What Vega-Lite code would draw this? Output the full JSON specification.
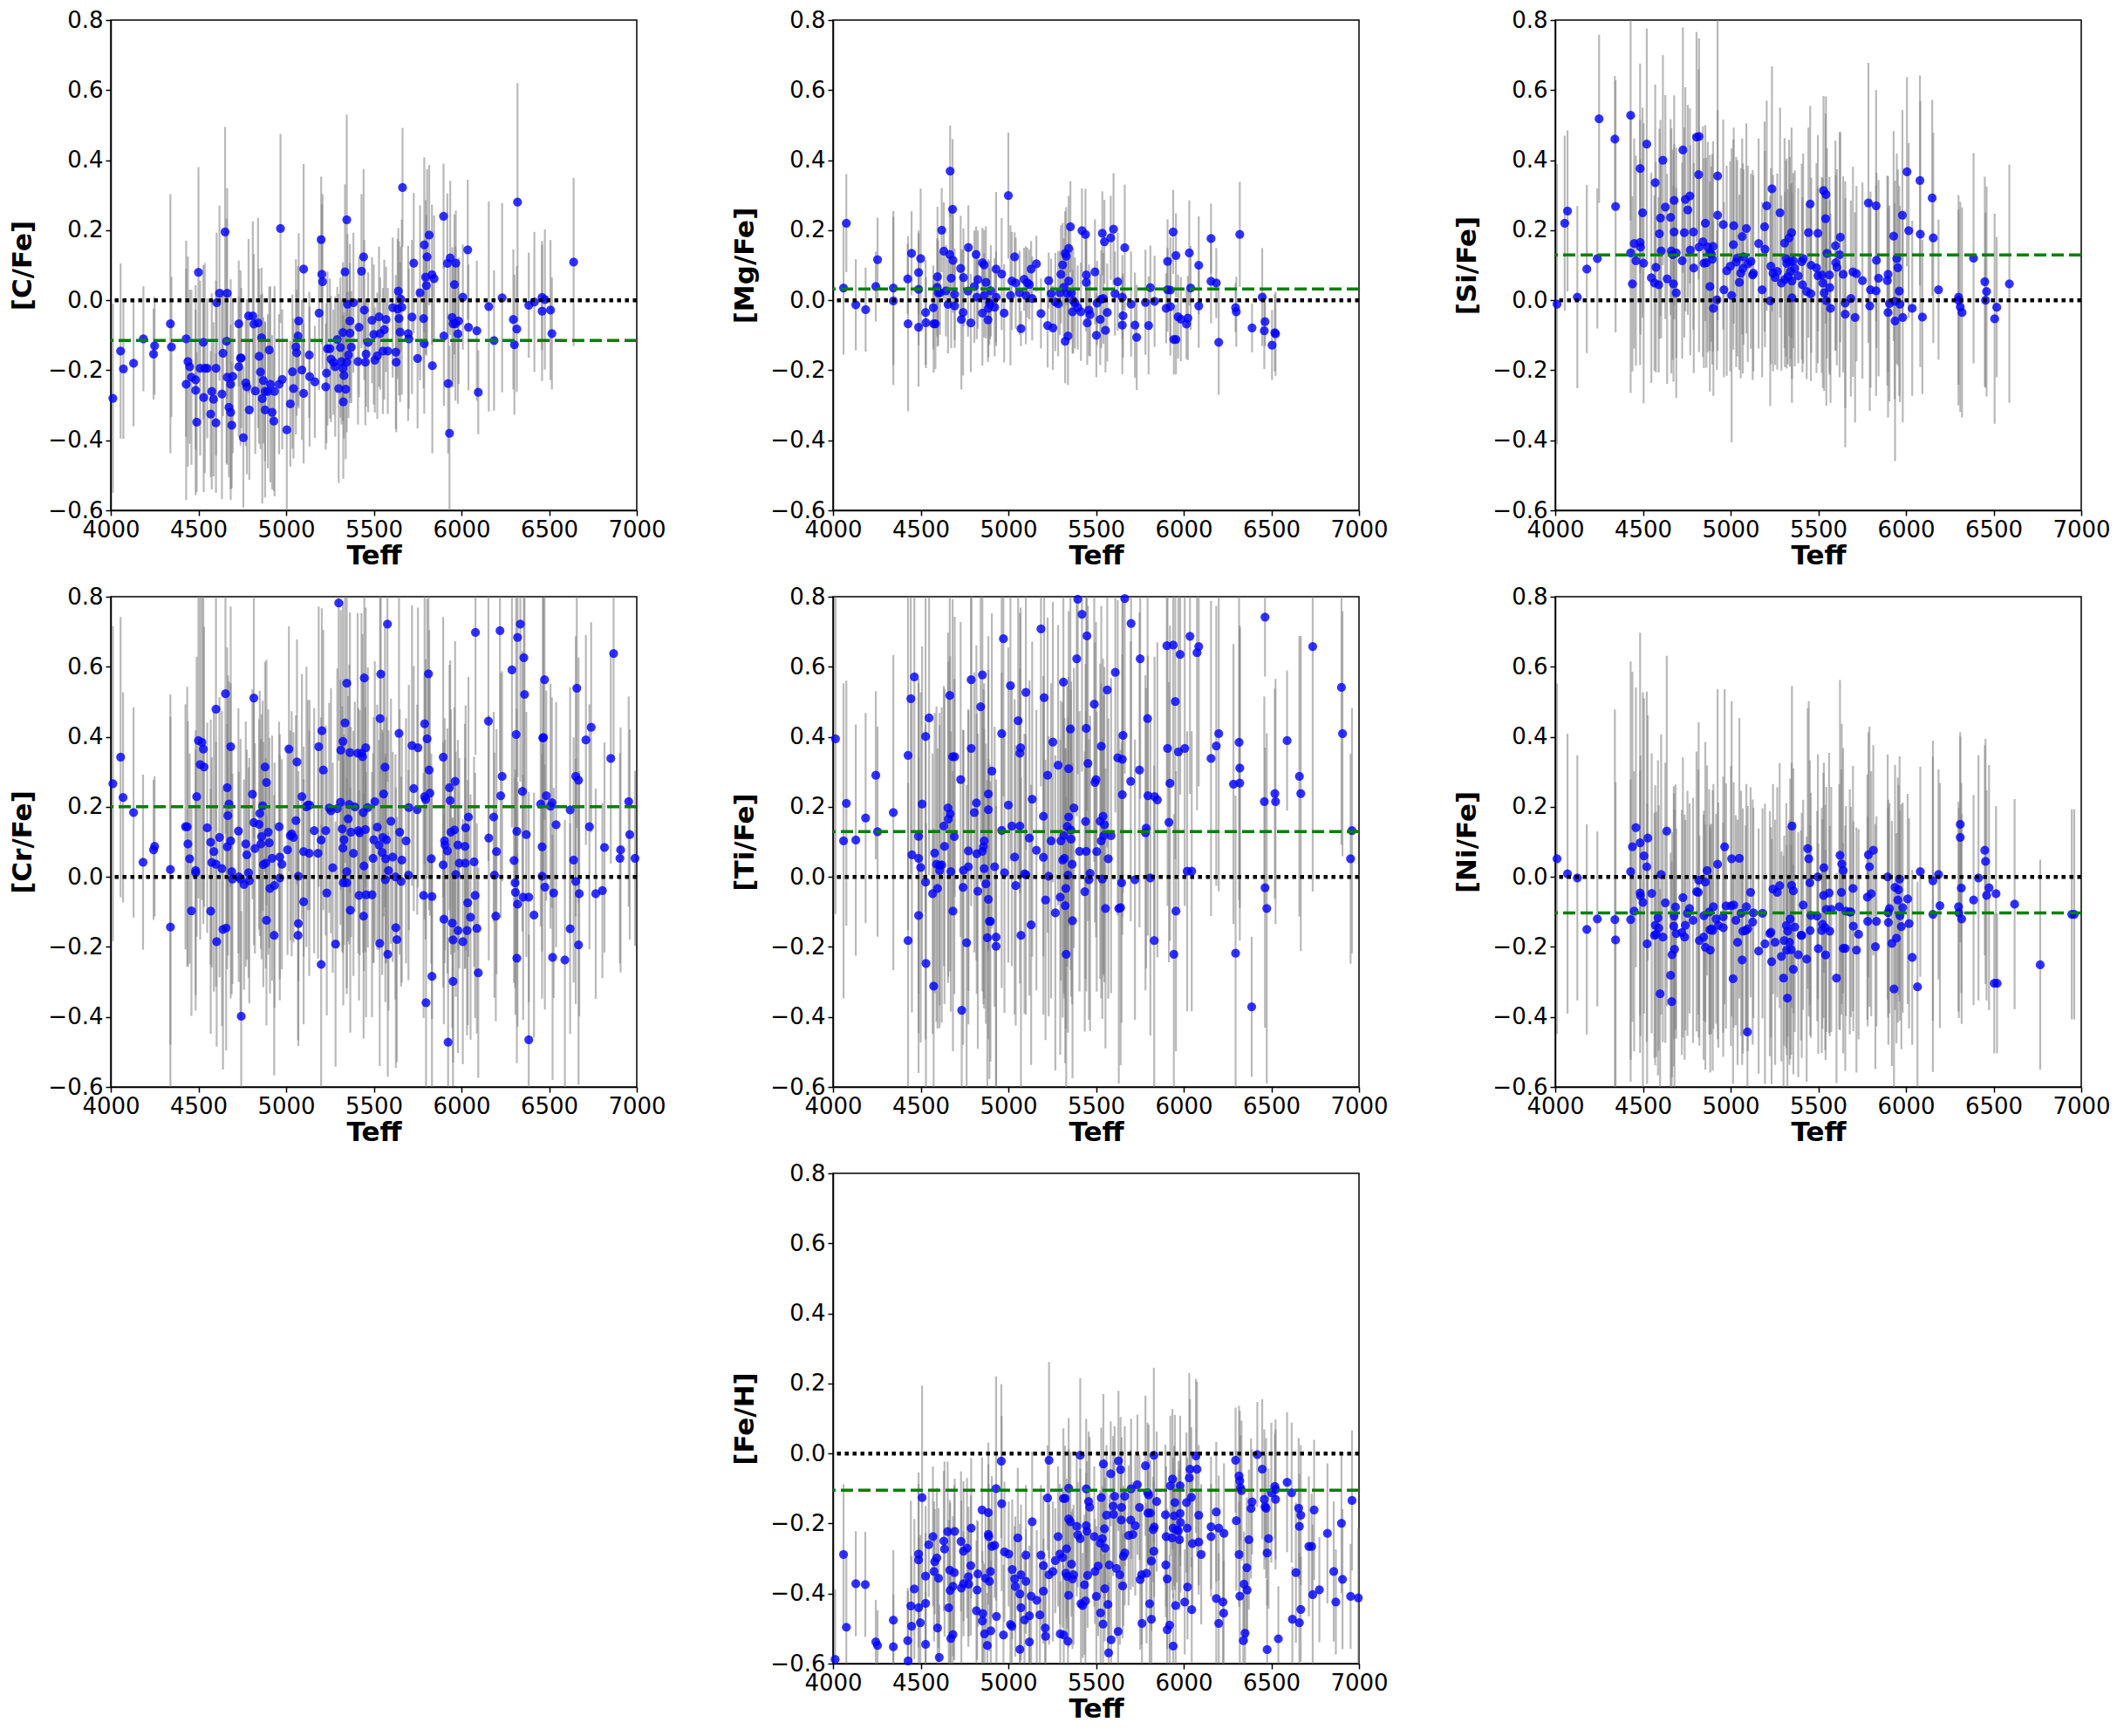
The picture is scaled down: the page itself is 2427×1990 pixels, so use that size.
{
  "$schema": "https://vega.github.io/schema/vega-lite/v6.json",
  "description": "Abundance ratios against Teff, seven panels with error bars, zero line and mean line",
  "padding": {"left": 10, "top": 9, "right": 10, "bottom": 10},
  "datasets": {
    "cfe": [
      {"t":4012,"v":-0.28,"e":0.27},{"t":4056,"v":-0.145,"e":0.25},{"t":4072,"v":-0.196,"e":0.2},{"t":4130,"v":-0.18,"e":0.18},{"t":4186,"v":-0.11,"e":0.15},{"t":4244,"v":-0.154,"e":0.13},{"t":4250,"v":-0.13,"e":0.14},{"t":4340,"v":-0.067,"e":0.37},{"t":4346,"v":-0.133,"e":0.2},{"t":4430,"v":-0.11,"e":0.28},{"t":4430,"v":-0.24,"e":0.33},{"t":4440,"v":-0.175,"e":0.3},{"t":4450,"v":-0.19,"e":0.22},{"t":4460,"v":-0.22,"e":0.25},{"t":4484,"v":-0.227,"e":0.2},{"t":4484,"v":-0.257,"e":0.3},{"t":4490,"v":-0.348,"e":0.2},{"t":4500,"v":0.08,"e":0.3},{"t":4510,"v":-0.194,"e":0.25},{"t":4528,"v":-0.12,"e":0.22},{"t":4530,"v":-0.278,"e":0.27},{"t":4536,"v":-0.194,"e":0.3},{"t":4550,"v":-0.194,"e":0.2},{"t":4570,"v":-0.325,"e":0.18},{"t":4576,"v":-0.26,"e":0.28},{"t":4586,"v":-0.283,"e":0.22},{"t":4600,"v":-0.194,"e":0.25},{"t":4600,"v":-0.35,"e":0.2},{"t":4604,"v":-0.007,"e":0.2},{"t":4620,"v":0.02,"e":0.25},{"t":4634,"v":-0.268,"e":0.3},{"t":4640,"v":-0.151,"e":0.18},{"t":4652,"v":0.195,"e":0.3},{"t":4660,"v":-0.117,"e":0.35},{"t":4664,"v":0.02,"e":0.3},{"t":4664,"v":-0.22,"e":0.25},{"t":4674,"v":-0.306,"e":0.2},{"t":4684,"v":-0.24,"e":0.3},{"t":4684,"v":-0.32,"e":0.25},{"t":4690,"v":-0.357,"e":0.18},{"t":4696,"v":-0.217,"e":0.22},{"t":4730,"v":-0.19,"e":0.2},{"t":4730,"v":-0.067,"e":0.18},{"t":4740,"v":-0.165,"e":0.25},{"t":4744,"v":-0.165,"e":0.2},{"t":4756,"v":-0.392,"e":0.2},{"t":4770,"v":-0.236,"e":0.18},{"t":4776,"v":-0.247,"e":0.25},{"t":4786,"v":-0.045,"e":0.22},{"t":4790,"v":-0.313,"e":0.2},{"t":4810,"v":-0.045,"e":0.27},{"t":4816,"v":-0.068,"e":0.2},{"t":4824,"v":-0.259,"e":0.18},{"t":4840,"v":-0.065,"e":0.3},{"t":4846,"v":-0.16,"e":0.25},{"t":4854,"v":-0.205,"e":0.22},{"t":4860,"v":-0.107,"e":0.2},{"t":4864,"v":-0.281,"e":0.3},{"t":4870,"v":-0.229,"e":0.18},{"t":4880,"v":-0.313,"e":0.25},{"t":4880,"v":-0.26,"e":0.2},{"t":4896,"v":-0.26,"e":0.22},{"t":4904,"v":-0.142,"e":0.18},{"t":4910,"v":-0.24,"e":0.28},{"t":4920,"v":-0.32,"e":0.22},{"t":4930,"v":-0.345,"e":0.2},{"t":4934,"v":-0.26,"e":0.3},{"t":4960,"v":-0.24,"e":0.2},{"t":4968,"v":0.205,"e":0.27},{"t":4978,"v":-0.226,"e":0.2},{"t":5004,"v":-0.37,"e":0.25},{"t":5024,"v":-0.296,"e":0.18},{"t":5036,"v":-0.204,"e":0.22},{"t":5042,"v":-0.252,"e":0.2},{"t":5056,"v":-0.133,"e":0.25},{"t":5060,"v":-0.15,"e":0.18},{"t":5068,"v":-0.102,"e":0.2},{"t":5072,"v":-0.059,"e":0.25},{"t":5090,"v":-0.199,"e":0.2},{"t":5100,"v":-0.266,"e":0.2},{"t":5100,"v":0.089,"e":0.3},{"t":5132,"v":-0.156,"e":0.18},{"t":5134,"v":-0.218,"e":0.2},{"t":5164,"v":-0.233,"e":0.16},{"t":5188,"v":-0.037,"e":0.22},{"t":5200,"v":0.173,"e":0.18},{"t":5204,"v":0.074,"e":0.2},{"t":5208,"v":0.053,"e":0.25},{"t":5226,"v":-0.247,"e":0.18},{"t":5230,"v":-0.208,"e":0.2},{"t":5236,"v":-0.138,"e":0.22},{"t":5250,"v":-0.138,"e":0.2},{"t":5256,"v":-0.168,"e":0.18},{"t":5270,"v":-0.177,"e":0.15},{"t":5280,"v":-0.19,"e":0.2},{"t":5292,"v":-0.112,"e":0.15},{"t":5300,"v":-0.252,"e":0.27},{"t":5310,"v":-0.135,"e":0.2},{"t":5316,"v":-0.175,"e":0.18},{"t":5324,"v":-0.092,"e":0.2},{"t":5324,"v":-0.194,"e":0.15},{"t":5326,"v":-0.29,"e":0.22},{"t":5330,"v":-0.215,"e":0.18},{"t":5336,"v":0.081,"e":0.25},{"t":5340,"v":-0.254,"e":0.2},{"t":5346,"v":0.23,"e":0.3},{"t":5346,"v":-0.177,"e":0.2},{"t":5350,"v":-0.011,"e":0.2},{"t":5356,"v":-0.156,"e":0.18},{"t":5364,"v":-0.094,"e":0.2},{"t":5364,"v":-0.059,"e":0.22},{"t":5372,"v":-0.134,"e":0.16},{"t":5384,"v":-0.007,"e":0.2},{"t":5410,"v":-0.175,"e":0.18},{"t":5416,"v":-0.077,"e":0.2},{"t":5430,"v":0.083,"e":0.22},{"t":5442,"v":0.124,"e":0.25},{"t":5446,"v":-0.028,"e":0.2},{"t":5452,"v":-0.177,"e":0.18},{"t":5456,"v":-0.154,"e":0.15},{"t":5468,"v":-0.12,"e":0.2},{"t":5490,"v":-0.057,"e":0.18},{"t":5500,"v":-0.098,"e":0.2},{"t":5506,"v":-0.171,"e":0.15},{"t":5520,"v":-0.159,"e":0.18},{"t":5530,"v":-0.047,"e":0.2},{"t":5536,"v":-0.095,"e":0.16},{"t":5552,"v":-0.145,"e":0.18},{"t":5560,"v":-0.084,"e":0.2},{"t":5570,"v":-0.055,"e":0.15},{"t":5580,"v":-0.145,"e":0.18},{"t":5608,"v":-0.021,"e":0.2},{"t":5626,"v":-0.148,"e":0.22},{"t":5628,"v":-0.177,"e":0.2},{"t":5636,"v":-0.025,"e":0.2},{"t":5640,"v":0.026,"e":0.18},{"t":5644,"v":-0.052,"e":0.22},{"t":5650,"v":-0.091,"e":0.2},{"t":5654,"v":0.003,"e":0.15},{"t":5660,"v":-0.02,"e":0.25},{"t":5664,"v":0.322,"e":0.17},{"t":5696,"v":-0.095,"e":0.25},{"t":5700,"v":-0.11,"e":0.2},{"t":5718,"v":-0.048,"e":0.22},{"t":5728,"v":0.106,"e":0.2},{"t":5750,"v":-0.166,"e":0.2},{"t":5764,"v":0.021,"e":0.25},{"t":5784,"v":-0.052,"e":0.2},{"t":5788,"v":0.158,"e":0.25},{"t":5788,"v":-0.124,"e":0.2},{"t":5796,"v":0.066,"e":0.22},{"t":5800,"v":0.042,"e":0.2},{"t":5804,"v":0.124,"e":0.25},{"t":5816,"v":0.186,"e":0.2},{"t":5832,"v":0.073,"e":0.2},{"t":5834,"v":-0.187,"e":0.25},{"t":5844,"v":0.062,"e":0.18},{"t":5898,"v":0.24,"e":0.15},{"t":5900,"v":-0.102,"e":0.2},{"t":5920,"v":0.105,"e":0.2},{"t":5924,"v":-0.238,"e":0.2},{"t":5932,"v":-0.38,"e":0.25},{"t":5936,"v":0.121,"e":0.22},{"t":5948,"v":-0.049,"e":0.2},{"t":5952,"v":-0.067,"e":0.18},{"t":5960,"v":0.045,"e":0.2},{"t":5966,"v":-0.067,"e":0.22},{"t":5968,"v":0.106,"e":0.15},{"t":5980,"v":-0.096,"e":0.2},{"t":5984,"v":-0.059,"e":0.18},{"t":6008,"v":0.009,"e":0.15},{"t":6036,"v":0.144,"e":0.2},{"t":6040,"v":-0.077,"e":0.18},{"t":6088,"v":-0.087,"e":0.2},{"t":6096,"v":-0.263,"e":0.12},{"t":6156,"v":-0.018,"e":0.3},{"t":6186,"v":-0.115,"e":0.2},{"t":6232,"v":0.007,"e":0.27},{"t":6296,"v":-0.055,"e":0.2},{"t":6302,"v":-0.127,"e":0.2},{"t":6316,"v":-0.082,"e":0.18},{"t":6320,"v":0.28,"e":0.34},{"t":6384,"v":-0.014,"e":0.15},{"t":6416,"v":-0.005,"e":0.2},{"t":6460,"v":-0.031,"e":0.2},{"t":6460,"v":0.008,"e":0.15},{"t":6476,"v":0.002,"e":0.2},{"t":6508,"v":-0.028,"e":0.2},{"t":6516,"v":-0.095,"e":0.16},{"t":6640,"v":0.109,"e":0.24}
    ],
    "mgfe": [
      {"t":4060,"v":0.035,"e":0.19},{"t":4076,"v":0.22,"e":0.14},{"t":4130,"v":-0.013,"e":0.13},{"t":4186,"v":-0.027,"e":0.12},{"t":4244,"v":0.039,"e":0.1},{"t":4254,"v":0.116,"e":0.12},{"t":4344,"v":0.035,"e":0.22},{"t":4344,"v":-0.002,"e":0.24},{"t":4426,"v":0.061,"e":0.1},{"t":4428,"v":-0.067,"e":0.25},{"t":4448,"v":0.134,"e":0.12},{"t":4488,"v":0.079,"e":0.12},{"t":4488,"v":0.031,"e":0.16},{"t":4488,"v":-0.077,"e":0.17},{"t":4500,"v":0.119,"e":0.2},{"t":4528,"v":-0.035,"e":0.15},{"t":4530,"v":-0.064,"e":0.13},{"t":4572,"v":-0.021,"e":0.12},{"t":4574,"v":-0.067,"e":0.14},{"t":4584,"v":-0.067,"e":0.13},{"t":4594,"v":0.037,"e":0.14},{"t":4596,"v":0.067,"e":0.2},{"t":4600,"v":0.021,"e":0.15},{"t":4610,"v":0.021,"e":0.12},{"t":4620,"v":0.2,"e":0.12},{"t":4632,"v":0.14,"e":0.14},{"t":4644,"v":0.027,"e":0.13},{"t":4656,"v":-0.012,"e":0.14},{"t":4666,"v":0.131,"e":0.13},{"t":4668,"v":0.369,"e":0.13},{"t":4674,"v":0.063,"e":0.2},{"t":4682,"v":0.26,"e":0.2},{"t":4684,"v":0.114,"e":0.15},{"t":4694,"v":0.017,"e":0.13},{"t":4694,"v":-0.016,"e":0.12},{"t":4728,"v":0.091,"e":0.15},{"t":4732,"v":-0.055,"e":0.2},{"t":4742,"v":-0.035,"e":0.18},{"t":4744,"v":0.065,"e":0.14},{"t":4770,"v":0.026,"e":0.13},{"t":4772,"v":0.151,"e":0.12},{"t":4786,"v":-0.065,"e":0.14},{"t":4806,"v":0.039,"e":0.16},{"t":4816,"v":0.131,"e":0.08},{"t":4820,"v":0.009,"e":0.12},{"t":4826,"v":0.059,"e":0.14},{"t":4852,"v":0.107,"e":0.1},{"t":4852,"v":-0.037,"e":0.15},{"t":4862,"v":0.101,"e":0.1},{"t":4862,"v":0.014,"e":0.12},{"t":4872,"v":0.051,"e":0.16},{"t":4884,"v":-0.056,"e":0.12},{"t":4886,"v":-0.023,"e":0.14},{"t":4892,"v":-0.007,"e":0.12},{"t":4896,"v":-0.011,"e":0.1},{"t":4900,"v":0.027,"e":0.13},{"t":4922,"v":-0.02,"e":0.14},{"t":4930,"v":0.009,"e":0.13},{"t":4930,"v":0.089,"e":0.22},{"t":4962,"v":0.075,"e":0.16},{"t":4976,"v":-0.037,"e":0.14},{"t":5000,"v":0.299,"e":0.18},{"t":5012,"v":0.014,"e":0.2},{"t":5020,"v":0.055,"e":0.14},{"t":5036,"v":0.124,"e":0.07},{"t":5042,"v":0.049,"e":0.13},{"t":5064,"v":0.021,"e":0.12},{"t":5072,"v":-0.081,"e":0.05},{"t":5090,"v":0.06,"e":0.09},{"t":5100,"v":0.014,"e":0.14},{"t":5108,"v":0.05,"e":0.1},{"t":5120,"v":0.045,"e":0.1},{"t":5130,"v":0.089,"e":0.08},{"t":5136,"v":0.005,"e":0.12},{"t":5160,"v":0.104,"e":0.08},{"t":5186,"v":-0.038,"e":0.1},{"t":5224,"v":-0.072,"e":0.12},{"t":5230,"v":0.056,"e":0.08},{"t":5244,"v":0.019,"e":0.1},{"t":5254,"v":-0.079,"e":0.12},{"t":5268,"v":-0.005,"e":0.14},{"t":5284,"v":-0.01,"e":0.15},{"t":5294,"v":0.021,"e":0.12},{"t":5300,"v":0.074,"e":0.14},{"t":5310,"v":0.101,"e":0.12},{"t":5316,"v":0.037,"e":0.14},{"t":5324,"v":0.134,"e":0.12},{"t":5324,"v":-0.117,"e":0.12},{"t":5330,"v":0.126,"e":0.14},{"t":5336,"v":0.019,"e":0.12},{"t":5340,"v":-0.102,"e":0.14},{"t":5344,"v":0.148,"e":0.15},{"t":5344,"v":0.055,"e":0.15},{"t":5354,"v":0.21,"e":0.13},{"t":5360,"v":0.021,"e":0.12},{"t":5366,"v":-0.033,"e":0.12},{"t":5370,"v":-0.001,"e":0.15},{"t":5380,"v":-0.008,"e":0.13},{"t":5396,"v":-0.021,"e":0.12},{"t":5414,"v":-0.033,"e":0.14},{"t":5420,"v":0.199,"e":0.12},{"t":5440,"v":0.188,"e":0.13},{"t":5444,"v":0.072,"e":0.12},{"t":5444,"v":0.051,"e":0.14},{"t":5450,"v":-0.065,"e":0.12},{"t":5460,"v":-0.028,"e":0.13},{"t":5466,"v":-0.041,"e":0.12},{"t":5494,"v":0.081,"e":0.15},{"t":5502,"v":-0.1,"e":0.12},{"t":5506,"v":-0.008,"e":0.12},{"t":5524,"v":-0.055,"e":0.13},{"t":5530,"v":0.003,"e":0.14},{"t":5536,"v":0.191,"e":0.12},{"t":5542,"v":0.005,"e":0.13},{"t":5548,"v":0.167,"e":0.12},{"t":5554,"v":-0.086,"e":0.12},{"t":5564,"v":-0.035,"e":0.14},{"t":5584,"v":0.178,"e":0.12},{"t":5600,"v":0.203,"e":0.16},{"t":5608,"v":0.019,"e":0.12},{"t":5624,"v":0.053,"e":0.14},{"t":5650,"v":-0.071,"e":0.14},{"t":5650,"v":0.009,"e":0.12},{"t":5654,"v":-0.044,"e":0.12},{"t":5664,"v":0.15,"e":0.18},{"t":5700,"v":-0.011,"e":0.15},{"t":5722,"v":-0.071,"e":0.15},{"t":5732,"v":-0.106,"e":0.15},{"t":5782,"v":-0.006,"e":0.15},{"t":5800,"v":-0.072,"e":0.14},{"t":5810,"v":0.036,"e":0.12},{"t":5834,"v":-0.003,"e":0.13},{"t":5900,"v":-0.023,"e":0.1},{"t":5908,"v":0.111,"e":0.12},{"t":5908,"v":0.03,"e":0.12},{"t":5924,"v":-0.018,"e":0.14},{"t":5924,"v":0.029,"e":0.15},{"t":5940,"v":0.195,"e":0.12},{"t":5944,"v":-0.112,"e":0.1},{"t":5956,"v":-0.112,"e":0.1},{"t":5956,"v":0.128,"e":0.12},{"t":5968,"v":-0.047,"e":0.12},{"t":5984,"v":-0.054,"e":0.12},{"t":6016,"v":-0.068,"e":0.1},{"t":6024,"v":-0.051,"e":0.12},{"t":6032,"v":0.135,"e":0.15},{"t":6040,"v":0.035,"e":0.12},{"t":6086,"v":0.1,"e":0.14},{"t":6086,"v":-0.016,"e":0.12},{"t":6156,"v":0.176,"e":0.1},{"t":6156,"v":0.054,"e":0.12},{"t":6186,"v":0.049,"e":0.1},{"t":6200,"v":-0.12,"e":0.15},{"t":6296,"v":-0.021,"e":0.07},{"t":6300,"v":-0.033,"e":0.1},{"t":6320,"v":0.188,"e":0.15},{"t":6390,"v":-0.079,"e":0.07},{"t":6448,"v":0.009,"e":0.14},{"t":6460,"v":-0.087,"e":0.11},{"t":6464,"v":-0.061,"e":0.07},{"t":6504,"v":-0.128,"e":0.1},{"t":6520,"v":-0.093,"e":0.11},{"t":6524,"v":-0.096,"e":0.12}
    ],
    "sife": [
      {"t":4010,"v":-0.011,"e":0.4},{"t":4054,"v":0.22,"e":0.25},{"t":4070,"v":0.255,"e":0.23},{"t":4126,"v":0.009,"e":0.26},{"t":4180,"v":0.089,"e":0.24},{"t":4240,"v":0.119,"e":0.2},{"t":4250,"v":0.518,"e":0.24},{"t":4340,"v":0.46,"e":0.18},{"t":4344,"v":0.268,"e":0.36},{"t":4430,"v":0.135,"e":0.4},{"t":4430,"v":0.528,"e":0.3},{"t":4440,"v":0.047,"e":0.25},{"t":4450,"v":0.162,"e":0.3},{"t":4460,"v":0.113,"e":0.3},{"t":4484,"v":0.376,"e":0.3},{"t":4484,"v":0.165,"e":0.35},{"t":4486,"v":0.152,"e":0.25},{"t":4498,"v":0.25,"e":0.3},{"t":4504,"v":0.106,"e":0.4},{"t":4522,"v":0.446,"e":0.33},{"t":4548,"v":0.064,"e":0.3},{"t":4566,"v":0.049,"e":0.25},{"t":4570,"v":0.336,"e":0.28},{"t":4574,"v":0.094,"e":0.3},{"t":4590,"v":0.044,"e":0.25},{"t":4594,"v":0.19,"e":0.3},{"t":4600,"v":0.235,"e":0.28},{"t":4604,"v":0.141,"e":0.25},{"t":4614,"v":0.4,"e":0.3},{"t":4628,"v":0.266,"e":0.32},{"t":4638,"v":0.061,"e":0.3},{"t":4658,"v":0.237,"e":0.28},{"t":4662,"v":0.141,"e":0.35},{"t":4670,"v":0.13,"e":0.3},{"t":4674,"v":0.047,"e":0.28},{"t":4678,"v":0.285,"e":0.3},{"t":4678,"v":0.195,"e":0.25},{"t":4690,"v":0.135,"e":0.3},{"t":4690,"v":0.021,"e":0.3},{"t":4724,"v":0.113,"e":0.28},{"t":4728,"v":0.429,"e":0.35},{"t":4736,"v":0.193,"e":0.3},{"t":4742,"v":0.288,"e":0.32},{"t":4756,"v":0.258,"e":0.3},{"t":4768,"v":0.298,"e":0.25},{"t":4770,"v":0.143,"e":0.3},{"t":4788,"v":0.195,"e":0.28},{"t":4790,"v":0.092,"e":0.3},{"t":4806,"v":0.466,"e":0.3},{"t":4820,"v":0.468,"e":0.28},{"t":4818,"v":0.359,"e":0.3},{"t":4820,"v":0.152,"e":0.3},{"t":4842,"v":0.167,"e":0.33},{"t":4848,"v":0.106,"e":0.3},{"t":4856,"v":0.22,"e":0.28},{"t":4862,"v":0.107,"e":0.3},{"t":4870,"v":0.152,"e":0.3},{"t":4882,"v":0.135,"e":0.28},{"t":4882,"v":0.039,"e":0.3},{"t":4890,"v":0.132,"e":0.25},{"t":4896,"v":0.117,"e":0.3},{"t":4900,"v":0.154,"e":0.3},{"t":4902,"v":-0.023,"e":0.25},{"t":4922,"v":0.001,"e":0.2},{"t":4926,"v":0.355,"e":0.5},{"t":4926,"v":0.243,"e":0.3},{"t":4958,"v":0.216,"e":0.3},{"t":4962,"v":0.03,"e":0.25},{"t":4978,"v":0.084,"e":0.3},{"t":4998,"v":0.097,"e":0.3},{"t":5006,"v":0.014,"e":0.42},{"t":5016,"v":0.159,"e":0.3},{"t":5018,"v":0.213,"e":0.28},{"t":5032,"v":0.109,"e":0.3},{"t":5038,"v":0.12,"e":0.28},{"t":5050,"v":0.051,"e":0.25},{"t":5058,"v":0.077,"e":0.3},{"t":5066,"v":0.182,"e":0.28},{"t":5070,"v":0.091,"e":0.3},{"t":5074,"v":0.124,"e":0.25},{"t":5090,"v":0.205,"e":0.3},{"t":5098,"v":0.104,"e":0.28},{"t":5116,"v":0.111,"e":0.25},{"t":5126,"v":0.072,"e":0.3},{"t":5130,"v":0.077,"e":0.28},{"t":5160,"v":0.162,"e":0.3},{"t":5180,"v":0.03,"e":0.25},{"t":5194,"v":0.21,"e":0.3},{"t":5196,"v":0.146,"e":0.28},{"t":5206,"v":0.27,"e":0.3},{"t":5226,"v":-0.002,"e":0.3},{"t":5230,"v":0.097,"e":0.28},{"t":5236,"v":0.318,"e":0.35},{"t":5242,"v":0.077,"e":0.28},{"t":5254,"v":0.065,"e":0.25},{"t":5266,"v":0.082,"e":0.28},{"t":5282,"v":0.25,"e":0.3},{"t":5290,"v":0.049,"e":0.25},{"t":5308,"v":0.163,"e":0.3},{"t":5310,"v":0.059,"e":0.25},{"t":5316,"v":0.119,"e":0.28},{"t":5320,"v":0.105,"e":0.3},{"t":5326,"v":0.067,"e":0.25},{"t":5334,"v":0.178,"e":0.28},{"t":5338,"v":0.11,"e":0.3},{"t":5342,"v":0.082,"e":0.25},{"t":5348,"v":0.193,"e":0.3},{"t":5350,"v":0.055,"e":0.28},{"t":5350,"v":0.007,"e":0.3},{"t":5358,"v":0.113,"e":0.25},{"t":5366,"v":0.091,"e":0.28},{"t":5386,"v":0.07,"e":0.25},{"t":5406,"v":0.11,"e":0.28},{"t":5410,"v":0.044,"e":0.25},{"t":5414,"v":0.119,"e":0.3},{"t":5434,"v":0.025,"e":0.25},{"t":5444,"v":0.193,"e":0.3},{"t":5454,"v":0.275,"e":0.28},{"t":5458,"v":0.019,"e":0.25},{"t":5460,"v":0.1,"e":0.25},{"t":5490,"v":0.092,"e":0.3},{"t":5498,"v":0.191,"e":0.28},{"t":5498,"v":0.07,"e":0.25},{"t":5520,"v":0.072,"e":0.28},{"t":5526,"v":0.049,"e":0.3},{"t":5530,"v":0.313,"e":0.27},{"t":5534,"v":0.021,"e":0.28},{"t":5542,"v":0.233,"e":0.3},{"t":5544,"v":0.302,"e":0.28},{"t":5546,"v":-0.001,"e":0.3},{"t":5550,"v":0.134,"e":0.3},{"t":5564,"v":0.072,"e":0.28},{"t":5566,"v":0.036,"e":0.25},{"t":5570,"v":-0.023,"e":0.27},{"t":5598,"v":0.156,"e":0.3},{"t":5600,"v":0.107,"e":0.25},{"t":5606,"v":0.094,"e":0.28},{"t":5622,"v":0.13,"e":0.35},{"t":5626,"v":0.18,"e":0.3},{"t":5642,"v":0.074,"e":0.28},{"t":5654,"v":-0.008,"e":0.3},{"t":5654,"v":-0.04,"e":0.38},{"t":5686,"v":0.005,"e":0.28},{"t":5698,"v":0.081,"e":0.3},{"t":5710,"v":-0.049,"e":0.3},{"t":5718,"v":0.076,"e":0.25},{"t":5752,"v":0.056,"e":0.28},{"t":5786,"v":0.278,"e":0.4},{"t":5794,"v":-0.016,"e":0.3},{"t":5798,"v":0.03,"e":0.28},{"t":5830,"v":0.27,"e":0.33},{"t":5830,"v":0.027,"e":0.3},{"t":5832,"v":0.114,"e":0.25},{"t":5844,"v":0.063,"e":0.28},{"t":5894,"v":0.056,"e":0.3},{"t":5898,"v":0.074,"e":0.28},{"t":5898,"v":-0.035,"e":0.3},{"t":5906,"v":-0.009,"e":0.28},{"t":5930,"v":0.183,"e":0.3},{"t":5936,"v":-0.003,"e":0.28},{"t":5938,"v":-0.059,"e":0.4},{"t":5948,"v":0.119,"e":0.3},{"t":5954,"v":0.093,"e":0.28},{"t":5962,"v":0.026,"e":0.3},{"t":5966,"v":-0.011,"e":0.28},{"t":5980,"v":0.243,"e":0.3},{"t":5982,"v":-0.049,"e":0.3},{"t":6006,"v":0.367,"e":0.27},{"t":6016,"v":0.199,"e":0.25},{"t":6036,"v":-0.023,"e":0.25},{"t":6080,"v":0.342,"e":0.3},{"t":6082,"v":0.189,"e":0.38},{"t":6094,"v":-0.048,"e":0.22},{"t":6150,"v":0.292,"e":0.28},{"t":6156,"v":0.178,"e":0.3},{"t":6186,"v":0.03,"e":0.2},{"t":6300,"v":0.009,"e":0.25},{"t":6300,"v":0,"e":0.3},{"t":6310,"v":-0.019,"e":0.3},{"t":6320,"v":-0.035,"e":0.3},{"t":6386,"v":0.12,"e":0.3},{"t":6450,"v":0.053,"e":0.3},{"t":6454,"v":0,"e":0.25},{"t":6460,"v":0.025,"e":0.3},{"t":6506,"v":-0.053,"e":0.3},{"t":6518,"v":-0.02,"e":0.2},{"t":6590,"v":0.047,"e":0.34}
    ],
    "crfe": [
      {"t":4012,"v":0.266,"e":0.45},{"t":4056,"v":0.342,"e":0.4},{"t":4070,"v":0.227,"e":0.3},{"t":4130,"v":0.184,"e":0.3},{"t":4184,"v":0.042,"e":0.25},{"t":4244,"v":0.077,"e":0.2},{"t":4250,"v":0.087,"e":0.2},{"t":4340,"v":0.021,"e":0.5},{"t":4340,"v":-0.143,"e":0.6},{"t":4426,"v":0.143,"e":0.35},{"t":4436,"v":0.143,"e":0.4},{"t":4440,"v":0.094,"e":0.35},{"t":4450,"v":0.052,"e":0.3},{"t":4460,"v":-0.097,"e":0.3},{"t":4484,"v":0.018,"e":0.4},{"t":4484,"v":0.012,"e":0.35},{"t":4490,"v":0.229,"e":0.4},{"t":4500,"v":0.389,"e":0.45},{"t":4510,"v":0.321,"e":0.5},{"t":4520,"v":0.384,"e":0.45},{"t":4528,"v":0.365,"e":0.5},{"t":4532,"v":0.314,"e":0.4},{"t":4550,"v":0.14,"e":0.3},{"t":4570,"v":0.099,"e":0.35},{"t":4570,"v":-0.098,"e":0.35},{"t":4576,"v":0.041,"e":0.3},{"t":4588,"v":0.072,"e":0.4},{"t":4600,"v":0.036,"e":0.35},{"t":4600,"v":0.479,"e":0.35},{"t":4604,"v":-0.185,"e":0.3},{"t":4620,"v":0.113,"e":0.4},{"t":4634,"v":0.024,"e":0.45},{"t":4640,"v":-0.15,"e":0.4},{"t":4654,"v":0.523,"e":0.4},{"t":4658,"v":-0.146,"e":0.35},{"t":4664,"v":0.255,"e":0.4},{"t":4664,"v":0.086,"e":0.35},{"t":4668,"v":0.175,"e":0.4},{"t":4674,"v":0.208,"e":0.35},{"t":4684,"v":0.103,"e":0.45},{"t":4684,"v":0.372,"e":0.4},{"t":4690,"v":0.015,"e":0.35},{"t":4694,"v":-0.006,"e":0.3},{"t":4728,"v":0.131,"e":0.35},{"t":4730,"v":0,"e":0.3},{"t":4740,"v":-0.006,"e":0.4},{"t":4744,"v":-0.398,"e":0.3},{"t":4760,"v":-0.022,"e":0.3},{"t":4770,"v":0.094,"e":0.35},{"t":4776,"v":0.063,"e":0.3},{"t":4786,"v":0.012,"e":0.3},{"t":4790,"v":-0.011,"e":0.35},{"t":4808,"v":0.236,"e":0.3},{"t":4816,"v":0.511,"e":0.4},{"t":4822,"v":0.081,"e":0.3},{"t":4816,"v":0.155,"e":0.35},{"t":4846,"v":0.15,"e":0.3},{"t":4850,"v":0.181,"e":0.35},{"t":4856,"v":0.094,"e":0.3},{"t":4860,"v":0.115,"e":0.35},{"t":4866,"v":0.203,"e":0.3},{"t":4870,"v":0.035,"e":0.35},{"t":4880,"v":0.314,"e":0.3},{"t":4884,"v":0.039,"e":0.3},{"t":4888,"v":0.27,"e":0.35},{"t":4888,"v":-0.124,"e":0.3},{"t":4898,"v":0.128,"e":0.35},{"t":4904,"v":0.097,"e":0.3},{"t":4908,"v":-0.033,"e":0.3},{"t":4920,"v":0.053,"e":0.35},{"t":4932,"v":-0.167,"e":0.4},{"t":4934,"v":-0.024,"e":0.35},{"t":4960,"v":0.143,"e":0.3},{"t":4964,"v":0.057,"e":0.35},{"t":4976,"v":0.036,"e":0.3},{"t":4964,"v":-0.003,"e":0.35},{"t":5008,"v":0.077,"e":0.3},{"t":5016,"v":0.365,"e":0.35},{"t":5024,"v":0.118,"e":0.3},{"t":5032,"v":0.123,"e":0.35},{"t":5042,"v":0.113,"e":0.3},{"t":5056,"v":0.161,"e":0.3},{"t":5062,"v":0.328,"e":0.35},{"t":5068,"v":-0.167,"e":0.3},{"t":5070,"v":-0.133,"e":0.35},{"t":5070,"v":0.002,"e":0.3},{"t":5090,"v":0.229,"e":0.35},{"t":5100,"v":0.072,"e":0.3},{"t":5100,"v":-0.071,"e":0.35},{"t":5116,"v":0.2,"e":0.4},{"t":5124,"v":0.205,"e":0.3},{"t":5132,"v":0.067,"e":0.35},{"t":5134,"v":0.205,"e":0.3},{"t":5160,"v":0.132,"e":0.35},{"t":5182,"v":0.067,"e":0.3},{"t":5186,"v":0.372,"e":0.4},{"t":5200,"v":0.105,"e":0.35},{"t":5200,"v":-0.25,"e":0.4},{"t":5204,"v":0.417,"e":0.35},{"t":5212,"v":0.305,"e":0.4},{"t":5226,"v":0.132,"e":0.3},{"t":5232,"v":-0.046,"e":0.35},{"t":5246,"v":0.197,"e":0.3},{"t":5256,"v":0.189,"e":0.35},{"t":5266,"v":0.026,"e":0.3},{"t":5282,"v":-0.192,"e":0.35},{"t":5292,"v":0.195,"e":0.4},{"t":5300,"v":0.782,"e":0.45},{"t":5310,"v":0.213,"e":0.35},{"t":5312,"v":0.362,"e":0.4},{"t":5320,"v":0.137,"e":0.35},{"t":5324,"v":0.082,"e":0.3},{"t":5324,"v":0.387,"e":0.4},{"t":5326,"v":-0.017,"e":0.35},{"t":5330,"v":0.106,"e":0.3},{"t":5336,"v":0.44,"e":0.4},{"t":5346,"v":0.553,"e":0.45},{"t":5346,"v":0.015,"e":0.35},{"t":5346,"v":-0.017,"e":0.3},{"t":5354,"v":0.166,"e":0.35},{"t":5360,"v":0.207,"e":0.4},{"t":5364,"v":0.355,"e":0.4},{"t":5366,"v":-0.095,"e":0.35},{"t":5370,"v":0.128,"e":0.3},{"t":5384,"v":0.067,"e":0.35},{"t":5392,"v":0.2,"e":0.3},{"t":5408,"v":0.353,"e":0.4},{"t":5412,"v":0.132,"e":0.35},{"t":5416,"v":-0.053,"e":0.3},{"t":5420,"v":0.126,"e":0.35},{"t":5430,"v":0.353,"e":0.4},{"t":5436,"v":0.343,"e":0.35},{"t":5440,"v":0.184,"e":0.4},{"t":5442,"v":-0.112,"e":0.35},{"t":5444,"v":0.031,"e":0.3},{"t":5446,"v":0.568,"e":0.4},{"t":5452,"v":0.135,"e":0.35},{"t":5454,"v":0.369,"e":0.4},{"t":5456,"v":-0.051,"e":0.35},{"t":5466,"v":0.198,"e":0.4},{"t":5490,"v":-0.051,"e":0.35},{"t":5496,"v":0.053,"e":0.3},{"t":5500,"v":0.106,"e":0.35},{"t":5506,"v":0.215,"e":0.4},{"t":5520,"v":0.142,"e":0.35},{"t":5530,"v":0.091,"e":0.3},{"t":5534,"v":-0.19,"e":0.35},{"t":5536,"v":0.452,"e":0.4},{"t":5540,"v":0.579,"e":0.45},{"t":5548,"v":0.07,"e":0.35},{"t":5552,"v":0.113,"e":0.3},{"t":5556,"v":0.237,"e":0.35},{"t":5564,"v":0.313,"e":0.4},{"t":5566,"v":-0.008,"e":0.35},{"t":5568,"v":0.052,"e":0.3},{"t":5572,"v":0.106,"e":0.35},{"t":5578,"v":0.722,"e":0.45},{"t":5580,"v":-0.221,"e":0.35},{"t":5584,"v":0.018,"e":0.4},{"t":5598,"v":0.159,"e":0.35},{"t":5608,"v":0.057,"e":0.3},{"t":5624,"v":0,"e":0.35},{"t":5626,"v":-0.145,"e":0.4},{"t":5632,"v":-0.179,"e":0.35},{"t":5644,"v":0.41,"e":0.4},{"t":5648,"v":0.128,"e":0.35},{"t":5656,"v":-0.013,"e":0.3},{"t":5660,"v":0.048,"e":0.35},{"t":5684,"v":0.103,"e":0.35},{"t":5698,"v":0.005,"e":0.3},{"t":5700,"v":0.198,"e":0.35},{"t":5718,"v":0.375,"e":0.4},{"t":5728,"v":0.252,"e":0.35},{"t":5748,"v":0.192,"e":0.3},{"t":5752,"v":0.369,"e":0.4},{"t":5784,"v":-0.053,"e":0.35},{"t":5790,"v":0.437,"e":0.4},{"t":5790,"v":0.229,"e":0.35},{"t":5796,"v":0.221,"e":0.4},{"t":5798,"v":-0.359,"e":0.3},{"t":5804,"v":0.394,"e":0.4},{"t":5812,"v":0.58,"e":0.35},{"t":5816,"v":0.305,"e":0.4},{"t":5820,"v":0.239,"e":0.35},{"t":5828,"v":0.052,"e":0.3},{"t":5832,"v":-0.284,"e":0.35},{"t":5832,"v":-0.056,"e":0.35},{"t":5896,"v":0.342,"e":0.4},{"t":5896,"v":0.034,"e":0.35},{"t":5900,"v":-0.121,"e":0.3},{"t":5904,"v":0.103,"e":0.35},{"t":5906,"v":0.091,"e":0.3},{"t":5920,"v":0.074,"e":0.35},{"t":5924,"v":-0.472,"e":0.3},{"t":5932,"v":0.255,"e":0.35},{"t":5936,"v":0.218,"e":0.4},{"t":5940,"v":0.128,"e":0.35},{"t":5948,"v":-0.132,"e":0.3},{"t":5952,"v":-0.18,"e":0.35},{"t":5952,"v":-0.298,"e":0.3},{"t":5960,"v":0.134,"e":0.35},{"t":5964,"v":0.273,"e":0.4},{"t":5968,"v":0.007,"e":0.35},{"t":5980,"v":0.091,"e":0.3},{"t":5980,"v":-0.153,"e":0.35},{"t":5988,"v":0.039,"e":0.3},{"t":6008,"v":-0.185,"e":0.35},{"t":6020,"v":0.087,"e":0.35},{"t":6022,"v":0.039,"e":0.3},{"t":6024,"v":0.14,"e":0.35},{"t":6032,"v":-0.153,"e":0.3},{"t":6036,"v":-0.074,"e":0.35},{"t":6040,"v":0.171,"e":0.4},{"t":6052,"v":-0.115,"e":0.35},{"t":6072,"v":0.043,"e":0.3},{"t":6078,"v":-0.053,"e":0.35},{"t":6080,"v":0.698,"e":0.35},{"t":6088,"v":-0.147,"e":0.3},{"t":6096,"v":-0.274,"e":0.3},{"t":6154,"v":0.445,"e":0.4},{"t":6156,"v":0.111,"e":0.35},{"t":6184,"v":0.171,"e":0.3},{"t":6188,"v":0.005,"e":0.35},{"t":6196,"v":-0.112,"e":0.3},{"t":6200,"v":0.072,"e":0.35},{"t":6220,"v":0.703,"e":0.4},{"t":6224,"v":0.232,"e":0.35},{"t":6232,"v":0.287,"e":0.3},{"t":6288,"v":0.591,"e":0.45},{"t":6300,"v":0.047,"e":0.35},{"t":6306,"v":-0.017,"e":0.3},{"t":6308,"v":-0.044,"e":0.35},{"t":6312,"v":0.407,"e":0.4},{"t":6316,"v":0.13,"e":0.35},{"t":6316,"v":-0.232,"e":0.3},{"t":6320,"v":0.684,"e":0.4},{"t":6320,"v":-0.078,"e":0.35},{"t":6336,"v":0.722,"e":0.45},{"t":6348,"v":0.244,"e":0.4},{"t":6352,"v":-0.058,"e":0.35},{"t":6356,"v":0.626,"e":0.4},{"t":6360,"v":0.521,"e":0.4},{"t":6370,"v":0.121,"e":0.35},{"t":6384,"v":-0.058,"e":0.3},{"t":6384,"v":-0.465,"e":0.3},{"t":6414,"v":-0.109,"e":0.35},{"t":6452,"v":0.208,"e":0.35},{"t":6460,"v":0.086,"e":0.3},{"t":6460,"v":0.002,"e":0.35},{"t":6464,"v":0.397,"e":0.4},{"t":6468,"v":0.398,"e":0.4},{"t":6474,"v":0.563,"e":0.4},{"t":6476,"v":-0.029,"e":0.35},{"t":6484,"v":0.232,"e":0.3},{"t":6508,"v":0.202,"e":0.35},{"t":6516,"v":0.212,"e":0.3},{"t":6520,"v":-0.23,"e":0.35},{"t":6526,"v":-0.046,"e":0.3},{"t":6540,"v":0.149,"e":0.35},{"t":6590,"v":-0.237,"e":0.4},{"t":6620,"v":0.191,"e":0.35},{"t":6620,"v":-0.148,"e":0.3},{"t":6640,"v":0.048,"e":0.35},{"t":6652,"v":0.287,"e":0.4},{"t":6652,"v":-0.013,"e":0.35},{"t":6658,"v":0.539,"e":0.4},{"t":6668,"v":0.276,"e":0.35},{"t":6668,"v":-0.194,"e":0.4},{"t":6672,"v":-0.048,"e":0.35},{"t":6710,"v":0.391,"e":0.3},{"t":6730,"v":0.143,"e":0.35},{"t":6740,"v":0.427,"e":0.3},{"t":6766,"v":-0.048,"e":0.3},{"t":6804,"v":-0.039,"e":0.25},{"t":6816,"v":0.084,"e":0.3},{"t":6852,"v":0.338,"e":0.3},{"t":6868,"v":0.638,"e":0.3},{"t":6904,"v":0.053,"e":0.3},{"t":6908,"v":0.077,"e":0.35},{"t":6954,"v":0.215,"e":0.3},{"t":6960,"v":0.121,"e":0.3},{"t":6990,"v":0.053,"e":0.25}
    ],
    "tife": [
      {"t":4014,"v":0.394,"e":0.5},{"t":4060,"v":0.103,"e":0.45},{"t":4076,"v":0.21,"e":0.35},{"t":4130,"v":0.105,"e":0.33},{"t":4186,"v":0.168,"e":0.3},{"t":4244,"v":0.29,"e":0.24},{"t":4254,"v":0.129,"e":0.3},{"t":4344,"v":0.184,"e":0.45},{"t":4428,"v":0.347,"e":0.5},{"t":4428,"v":-0.182,"e":0.45},{"t":4444,"v":0.509,"e":0.5},{"t":4450,"v":0.063,"e":0.45},{"t":4464,"v":0.571,"e":0.5},{"t":4488,"v":0.116,"e":0.45},{"t":4488,"v":0.053,"e":0.5},{"t":4488,"v":-0.11,"e":0.45},{"t":4500,"v":0.027,"e":0.5},{"t":4508,"v":0.208,"e":0.45},{"t":4528,"v":0.401,"e":0.5},{"t":4528,"v":-0.015,"e":0.45},{"t":4530,"v":-0.247,"e":0.4},{"t":4548,"v":0.454,"e":0.45},{"t":4568,"v":-0.048,"e":0.4},{"t":4574,"v":-0.312,"e":0.45},{"t":4580,"v":0.068,"e":0.4},{"t":4590,"v":0.036,"e":0.45},{"t":4596,"v":-0.033,"e":0.4},{"t":4608,"v":0.018,"e":0.45},{"t":4608,"v":0.033,"e":0.4},{"t":4620,"v":0.034,"e":0.45},{"t":4632,"v":0.145,"e":0.4},{"t":4636,"v":0.087,"e":0.45},{"t":4656,"v":0.197,"e":0.5},{"t":4658,"v":0.165,"e":0.45},{"t":4666,"v":0.518,"e":0.5},{"t":4668,"v":0.18,"e":0.45},{"t":4672,"v":0.015,"e":0.4},{"t":4682,"v":0.343,"e":0.45},{"t":4684,"v":-0.098,"e":0.4},{"t":4692,"v":0.115,"e":0.45},{"t":4694,"v":0.343,"e":0.4},{"t":4728,"v":0.278,"e":0.45},{"t":4734,"v":-0.381,"e":0.4},{"t":4742,"v":-0.03,"e":0.45},{"t":4744,"v":0.019,"e":0.4},{"t":4762,"v":-0.188,"e":0.45},{"t":4772,"v":0.074,"e":0.4},{"t":4772,"v":0.029,"e":0.45},{"t":4788,"v":0.563,"e":0.5},{"t":4788,"v":0.367,"e":0.45},{"t":4806,"v":0.184,"e":0.4},{"t":4818,"v":0.211,"e":0.45},{"t":4820,"v":0.066,"e":0.4},{"t":4826,"v":-0.041,"e":0.45},{"t":4842,"v":0.486,"e":0.5},{"t":4852,"v":0.577,"e":0.45},{"t":4852,"v":0.073,"e":0.4},{"t":4858,"v":0.086,"e":0.45},{"t":4862,"v":0.024,"e":0.4},{"t":4862,"v":0.103,"e":0.45},{"t":4872,"v":-0.02,"e":0.4},{"t":4880,"v":-0.174,"e":0.45},{"t":4886,"v":0.192,"e":0.4},{"t":4886,"v":0.237,"e":0.45},{"t":4886,"v":-0.064,"e":0.4},{"t":4892,"v":-0.127,"e":0.45},{"t":4898,"v":-0.127,"e":0.4},{"t":4906,"v":0.302,"e":0.45},{"t":4922,"v":0.029,"e":0.4},{"t":4930,"v":-0.172,"e":0.45},{"t":4930,"v":-0.198,"e":0.4},{"t":4962,"v":0.133,"e":0.45},{"t":4962,"v":0.409,"e":0.4},{"t":4972,"v":0.68,"e":0.45},{"t":4978,"v":0.012,"e":0.4},{"t":5000,"v":0.205,"e":0.45},{"t":5012,"v":0.546,"e":0.5},{"t":5020,"v":0.145,"e":0.4},{"t":5036,"v":0.057,"e":0.45},{"t":5042,"v":-0.025,"e":0.4},{"t":5056,"v":0.446,"e":0.45},{"t":5066,"v":0.353,"e":0.4},{"t":5066,"v":0.145,"e":0.45},{"t":5070,"v":0.369,"e":0.4},{"t":5072,"v":-0.167,"e":0.45},{"t":5092,"v":0.009,"e":0.4},{"t":5100,"v":0.527,"e":0.45},{"t":5100,"v":0.006,"e":0.4},{"t":5120,"v":0.111,"e":0.45},{"t":5130,"v":-0.137,"e":0.4},{"t":5136,"v":0.222,"e":0.45},{"t":5160,"v":0.076,"e":0.4},{"t":5186,"v":0.708,"e":0.45},{"t":5200,"v":0.173,"e":0.4},{"t":5200,"v":0.056,"e":0.45},{"t":5204,"v":0.512,"e":0.5},{"t":5212,"v":-0.066,"e":0.4},{"t":5224,"v":0.29,"e":0.45},{"t":5230,"v":0.002,"e":0.4},{"t":5244,"v":0.103,"e":0.45},{"t":5254,"v":0.385,"e":0.4},{"t":5268,"v":-0.103,"e":0.45},{"t":5284,"v":0.319,"e":0.4},{"t":5296,"v":-0.058,"e":0.45},{"t":5300,"v":0.103,"e":0.4},{"t":5310,"v":0.048,"e":0.45},{"t":5314,"v":0.556,"e":0.5},{"t":5316,"v":0.118,"e":0.45},{"t":5320,"v":0.053,"e":0.4},{"t":5324,"v":-0.082,"e":0.45},{"t":5328,"v":-0.033,"e":0.4},{"t":5330,"v":-0.221,"e":0.45},{"t":5336,"v":0.144,"e":0.4},{"t":5340,"v":0.005,"e":0.45},{"t":5344,"v":0.171,"e":0.4},{"t":5344,"v":0.309,"e":0.45},{"t":5354,"v":0.422,"e":0.45},{"t":5356,"v":0.134,"e":0.4},{"t":5358,"v":0.108,"e":0.45},{"t":5364,"v":0.036,"e":0.4},{"t":5366,"v":-0.125,"e":0.45},{"t":5374,"v":0.197,"e":0.4},{"t":5390,"v":0.623,"e":0.45},{"t":5396,"v":0.793,"e":0.5},{"t":5406,"v":0.073,"e":0.4},{"t":5420,"v":0.75,"e":0.45},{"t":5436,"v":-0.042,"e":0.4},{"t":5440,"v":0.158,"e":0.45},{"t":5444,"v":0.073,"e":0.4},{"t":5444,"v":0.424,"e":0.45},{"t":5448,"v":0.688,"e":0.5},{"t":5454,"v":0.324,"e":0.45},{"t":5460,"v":-0.008,"e":0.4},{"t":5466,"v":0.01,"e":0.45},{"t":5490,"v":0.493,"e":0.45},{"t":5494,"v":0.27,"e":0.4},{"t":5500,"v":0.278,"e":0.45},{"t":5504,"v":0.072,"e":0.4},{"t":5524,"v":0.159,"e":0.45},{"t":5530,"v":0.373,"e":0.4},{"t":5530,"v":0.103,"e":0.45},{"t":5536,"v":-0.006,"e":0.4},{"t":5540,"v":0.173,"e":0.45},{"t":5544,"v":0.118,"e":0.4},{"t":5548,"v":0.149,"e":0.45},{"t":5554,"v":-0.09,"e":0.4},{"t":5564,"v":0.534,"e":0.45},{"t":5570,"v":0.052,"e":0.4},{"t":5586,"v":0.118,"e":0.45},{"t":5610,"v":0.584,"e":0.4},{"t":5624,"v":0.34,"e":0.45},{"t":5630,"v":-0.09,"e":0.5},{"t":5640,"v":-0.088,"e":0.45},{"t":5646,"v":-0.017,"e":0.4},{"t":5650,"v":0.336,"e":0.45},{"t":5650,"v":0.235,"e":0.4},{"t":5654,"v":0.404,"e":0.45},{"t":5664,"v":0.795,"e":0.5},{"t":5698,"v":0.273,"e":0.4},{"t":5700,"v":0.724,"e":0.45},{"t":5722,"v":-0.008,"e":0.4},{"t":5748,"v":0.305,"e":0.45},{"t":5752,"v":0.623,"e":0.4},{"t":5782,"v":0.126,"e":0.45},{"t":5786,"v":0.139,"e":0.4},{"t":5794,"v":0.452,"e":0.45},{"t":5796,"v":0.232,"e":0.4},{"t":5810,"v":-0.003,"e":0.45},{"t":5832,"v":-0.182,"e":0.5},{"t":5834,"v":0.229,"e":0.4},{"t":5850,"v":0.22,"e":0.45},{"t":5904,"v":0.66,"e":0.4},{"t":5908,"v":0.367,"e":0.45},{"t":5916,"v":0.156,"e":0.4},{"t":5922,"v":0.267,"e":0.45},{"t":5940,"v":0.662,"e":0.4},{"t":5944,"v":-0.221,"e":0.4},{"t":5952,"v":0.501,"e":0.45},{"t":5956,"v":-0.098,"e":0.4},{"t":5970,"v":0.357,"e":0.45},{"t":5980,"v":0.635,"e":0.4},{"t":6006,"v":0.367,"e":0.45},{"t":6020,"v":0.016,"e":0.4},{"t":6036,"v":0.687,"e":0.45},{"t":6046,"v":0.016,"e":0.4},{"t":6076,"v":0.64,"e":0.45},{"t":6086,"v":0.658,"e":0.4},{"t":6156,"v":0.338,"e":0.45},{"t":6186,"v":0.374,"e":0.4},{"t":6200,"v":0.409,"e":0.45},{"t":6284,"v":0.265,"e":0.4},{"t":6296,"v":-0.218,"e":0.45},{"t":6316,"v":0.384,"e":0.45},{"t":6320,"v":0.311,"e":0.4},{"t":6320,"v":0.268,"e":0.45},{"t":6388,"v":-0.371,"e":0.2},{"t":6460,"v":0.215,"e":0.3},{"t":6464,"v":0.742,"e":0.17},{"t":6464,"v":-0.031,"e":0.4},{"t":6474,"v":-0.09,"e":0.5},{"t":6520,"v":0.238,"e":0.3},{"t":6524,"v":0.215,"e":0.35},{"t":6590,"v":0.389,"e":0.2},{"t":6660,"v":0.287,"e":0.4},{"t":6668,"v":0.238,"e":0.45},{"t":6736,"v":0.658,"e":0.7},{"t":6900,"v":0.541,"e":0.45},{"t":6906,"v":0.409,"e":0.35},{"t":6952,"v":0.052,"e":0.3},{"t":6960,"v":0.132,"e":0.35}
    ],
    "nife": [
      {"t":4010,"v":0.052,"e":0.5},{"t":4070,"v":0.009,"e":0.4},{"t":4126,"v":-0.003,"e":0.35},{"t":4180,"v":-0.15,"e":0.3},{"t":4240,"v":-0.12,"e":0.25},{"t":4340,"v":-0.122,"e":0.6},{"t":4344,"v":-0.18,"e":0.45},{"t":4430,"v":0.015,"e":0.6},{"t":4430,"v":-0.122,"e":0.4},{"t":4440,"v":0.086,"e":0.5},{"t":4450,"v":-0.098,"e":0.4},{"t":4460,"v":0.141,"e":0.4},{"t":4484,"v":0.097,"e":0.6},{"t":4484,"v":-0.046,"e":0.35},{"t":4486,"v":-0.054,"e":0.4},{"t":4500,"v":-0.073,"e":0.6},{"t":4506,"v":0.06,"e":0.45},{"t":4522,"v":0.029,"e":0.5},{"t":4524,"v":-0.191,"e":0.4},{"t":4528,"v":0.111,"e":0.35},{"t":4550,"v":-0.047,"e":0.4},{"t":4566,"v":-0.167,"e":0.35},{"t":4570,"v":-0.138,"e":0.4},{"t":4576,"v":-0.164,"e":0.35},{"t":4586,"v":-0.117,"e":0.45},{"t":4590,"v":-0.146,"e":0.35},{"t":4598,"v":-0.334,"e":0.3},{"t":4604,"v":0.007,"e":0.4},{"t":4614,"v":-0.172,"e":0.3},{"t":4628,"v":-0.074,"e":0.4},{"t":4636,"v":0.131,"e":0.5},{"t":4658,"v":-0.281,"e":0.35},{"t":4664,"v":-0.356,"e":0.4},{"t":4666,"v":-0.222,"e":0.35},{"t":4676,"v":-0.141,"e":0.4},{"t":4678,"v":-0.112,"e":0.35},{"t":4680,"v":-0.207,"e":0.4},{"t":4686,"v":-0.086,"e":0.35},{"t":4690,"v":-0.162,"e":0.3},{"t":4722,"v":-0.159,"e":0.35},{"t":4728,"v":-0.059,"e":0.4},{"t":4738,"v":-0.172,"e":0.35},{"t":4742,"v":-0.138,"e":0.3},{"t":4754,"v":-0.104,"e":0.35},{"t":4766,"v":-0.09,"e":0.3},{"t":4786,"v":-0.124,"e":0.35},{"t":4806,"v":-0.042,"e":0.4},{"t":4816,"v":-0.044,"e":0.35},{"t":4818,"v":-0.009,"e":0.45},{"t":4822,"v":-0.182,"e":0.3},{"t":4846,"v":-0.172,"e":0.35},{"t":4848,"v":-0.111,"e":0.3},{"t":4856,"v":-0.015,"e":0.4},{"t":4856,"v":-0.201,"e":0.35},{"t":4866,"v":0.018,"e":0.3},{"t":4878,"v":-0.1,"e":0.35},{"t":4882,"v":-0.151,"e":0.3},{"t":4884,"v":-0.209,"e":0.35},{"t":4890,"v":-0.149,"e":0.3},{"t":4898,"v":-0.153,"e":0.4},{"t":4902,"v":-0.085,"e":0.35},{"t":4918,"v":-0.12,"e":0.3},{"t":4926,"v":0.036,"e":0.5},{"t":4930,"v":-0.138,"e":0.35},{"t":4958,"v":-0.114,"e":0.4},{"t":4958,"v":-0.145,"e":0.3},{"t":4966,"v":0.086,"e":0.45},{"t":4974,"v":-0.083,"e":0.35},{"t":5002,"v":-0.083,"e":0.4},{"t":5006,"v":0.052,"e":0.45},{"t":5014,"v":-0.291,"e":0.3},{"t":5018,"v":-0.08,"e":0.35},{"t":5030,"v":-0.124,"e":0.3},{"t":5040,"v":-0.187,"e":0.35},{"t":5050,"v":0.053,"e":0.4},{"t":5060,"v":-0.104,"e":0.35},{"t":5066,"v":-0.237,"e":0.3},{"t":5070,"v":-0.155,"e":0.35},{"t":5086,"v":-0.153,"e":0.3},{"t":5090,"v":-0.085,"e":0.35},{"t":5096,"v":-0.443,"e":0.3},{"t":5098,"v":-0.148,"e":0.35},{"t":5114,"v":-0.044,"e":0.3},{"t":5126,"v":-0.129,"e":0.35},{"t":5130,"v":-0.103,"e":0.3},{"t":5160,"v":-0.212,"e":0.35},{"t":5182,"v":-0.104,"e":0.3},{"t":5196,"v":-0.191,"e":0.4},{"t":5224,"v":-0.162,"e":0.35},{"t":5230,"v":-0.158,"e":0.3},{"t":5234,"v":-0.242,"e":0.35},{"t":5242,"v":-0.035,"e":0.3},{"t":5254,"v":-0.187,"e":0.35},{"t":5266,"v":-0.044,"e":0.3},{"t":5280,"v":-0.025,"e":0.35},{"t":5290,"v":-0.227,"e":0.3},{"t":5302,"v":-0.289,"e":0.35},{"t":5306,"v":-0.182,"e":0.3},{"t":5318,"v":-0.139,"e":0.35},{"t":5320,"v":-0.209,"e":0.3},{"t":5324,"v":-0.346,"e":0.35},{"t":5326,"v":-0.155,"e":0.3},{"t":5336,"v":-0.187,"e":0.35},{"t":5340,"v":-0.12,"e":0.4},{"t":5346,"v":-0.208,"e":0.3},{"t":5348,"v":-0.024,"e":0.35},{"t":5350,"v":0.145,"e":0.4},{"t":5358,"v":-0.264,"e":0.3},{"t":5358,"v":-0.04,"e":0.35},{"t":5366,"v":-0.143,"e":0.3},{"t":5386,"v":-0.222,"e":0.35},{"t":5402,"v":-0.167,"e":0.3},{"t":5406,"v":-0.167,"e":0.35},{"t":5414,"v":-0.08,"e":0.3},{"t":5434,"v":-0.235,"e":0.35},{"t":5440,"v":0.081,"e":0.4},{"t":5446,"v":0.052,"e":0.45},{"t":5452,"v":-0.017,"e":0.35},{"t":5454,"v":-0.153,"e":0.3},{"t":5458,"v":-0.11,"e":0.35},{"t":5494,"v":-0.112,"e":0.3},{"t":5498,"v":0,"e":0.35},{"t":5500,"v":-0.205,"e":0.3},{"t":5520,"v":-0.153,"e":0.35},{"t":5524,"v":-0.135,"e":0.3},{"t":5530,"v":-0.053,"e":0.35},{"t":5532,"v":0.026,"e":0.3},{"t":5540,"v":-0.145,"e":0.35},{"t":5542,"v":-0.223,"e":0.3},{"t":5546,"v":-0.093,"e":0.35},{"t":5562,"v":-0.046,"e":0.4},{"t":5566,"v":-0.155,"e":0.3},{"t":5574,"v":-0.093,"e":0.35},{"t":5604,"v":-0.289,"e":0.3},{"t":5620,"v":-0.085,"e":0.35},{"t":5624,"v":0.062,"e":0.5},{"t":5632,"v":-0.044,"e":0.35},{"t":5634,"v":0.037,"e":0.4},{"t":5642,"v":0.018,"e":0.35},{"t":5642,"v":-0.204,"e":0.3},{"t":5654,"v":-0.204,"e":0.35},{"t":5658,"v":-0.098,"e":0.3},{"t":5680,"v":-0.1,"e":0.35},{"t":5686,"v":-0.1,"e":0.3},{"t":5698,"v":-0.033,"e":0.35},{"t":5700,"v":-0.141,"e":0.3},{"t":5718,"v":-0.209,"e":0.35},{"t":5730,"v":-0.164,"e":0.3},{"t":5780,"v":-0.058,"e":0.35},{"t":5782,"v":-0.127,"e":0.3},{"t":5786,"v":0.063,"e":0.35},{"t":5792,"v":0.029,"e":0.4},{"t":5802,"v":-0.048,"e":0.35},{"t":5814,"v":0.076,"e":0.3},{"t":5826,"v":-0.199,"e":0.35},{"t":5832,"v":-0.127,"e":0.3},{"t":5896,"v":0,"e":0.35},{"t":5898,"v":-0.102,"e":0.3},{"t":5900,"v":-0.13,"e":0.35},{"t":5906,"v":-0.09,"e":0.3},{"t":5920,"v":-0.19,"e":0.35},{"t":5932,"v":-0.32,"e":0.3},{"t":5938,"v":-0.03,"e":0.35},{"t":5946,"v":-0.175,"e":0.3},{"t":5954,"v":-0.066,"e":0.35},{"t":5958,"v":-0.037,"e":0.3},{"t":5964,"v":-0.006,"e":0.35},{"t":5966,"v":-0.111,"e":0.3},{"t":5974,"v":-0.142,"e":0.35},{"t":5982,"v":-0.088,"e":0.3},{"t":6010,"v":-0.063,"e":0.3},{"t":6018,"v":-0.133,"e":0.3},{"t":6036,"v":-0.23,"e":0.25},{"t":6066,"v":-0.314,"e":0.3},{"t":6082,"v":0.015,"e":0.3},{"t":6154,"v":-0.011,"e":0.4},{"t":6154,"v":-0.107,"e":0.45},{"t":6186,"v":0.007,"e":0.3},{"t":6194,"v":-0.082,"e":0.35},{"t":6300,"v":-0.085,"e":0.3},{"t":6302,"v":-0.103,"e":0.3},{"t":6310,"v":0.15,"e":0.25},{"t":6310,"v":0.113,"e":0.3},{"t":6316,"v":-0.032,"e":0.3},{"t":6318,"v":-0.12,"e":0.3},{"t":6386,"v":-0.066,"e":0.3},{"t":6414,"v":-0.003,"e":0.35},{"t":6450,"v":0.076,"e":0.3},{"t":6454,"v":0.044,"e":0.35},{"t":6460,"v":-0.053,"e":0.3},{"t":6474,"v":-0.031,"e":0.35},{"t":6504,"v":-0.304,"e":0.2},{"t":6514,"v":-0.048,"e":0.25},{"t":6520,"v":-0.304,"e":0.2},{"t":6620,"v":-0.078,"e":0.3},{"t":6766,"v":-0.251,"e":0.3},{"t":6946,"v":-0.107,"e":0.3},{"t":6960,"v":-0.107,"e":0.3}
    ],
    "feh": [
      {"t":4012,"v":-0.588,"e":0.2},{"t":4060,"v":-0.288,"e":0.2},{"t":4076,"v":-0.496,"e":0.2},{"t":4130,"v":-0.372,"e":0.15},{"t":4184,"v":-0.374,"e":0.15},{"t":4244,"v":-0.538,"e":0.12},{"t":4254,"v":-0.548,"e":0.1},{"t":4344,"v":-0.476,"e":0.2},{"t":4344,"v":-0.552,"e":0.15},{"t":4426,"v":-0.534,"e":0.15},{"t":4428,"v":-0.592,"e":0.2},{"t":4444,"v":-0.435,"e":0.3},{"t":4448,"v":-0.493,"e":0.2},{"t":4464,"v":-0.387,"e":0.2},{"t":4488,"v":-0.287,"e":0.2},{"t":4488,"v":-0.304,"e":0.25},{"t":4488,"v":-0.44,"e":0.2},{"t":4498,"v":-0.483,"e":0.25},{"t":4508,"v":-0.126,"e":0.32},{"t":4528,"v":-0.35,"e":0.2},{"t":4528,"v":-0.428,"e":0.2},{"t":4528,"v":-0.545,"e":0.15},{"t":4546,"v":-0.26,"e":0.15},{"t":4570,"v":-0.237,"e":0.2},{"t":4576,"v":-0.337,"e":0.2},{"t":4580,"v":-0.309,"e":0.15},{"t":4592,"v":-0.298,"e":0.2},{"t":4596,"v":-0.498,"e":0.15},{"t":4602,"v":-0.356,"e":0.2},{"t":4606,"v":-0.582,"e":0.15},{"t":4632,"v":-0.25,"e":0.2},{"t":4636,"v":-0.273,"e":0.25},{"t":4654,"v":-0.223,"e":0.2},{"t":4660,"v":-0.44,"e":0.25},{"t":4666,"v":-0.333,"e":0.2},{"t":4668,"v":-0.391,"e":0.25},{"t":4672,"v":-0.528,"e":0.2},{"t":4684,"v":-0.517,"e":0.15},{"t":4684,"v":-0.379,"e":0.2},{"t":4692,"v":-0.34,"e":0.25},{"t":4694,"v":-0.222,"e":0.15},{"t":4730,"v":-0.251,"e":0.2},{"t":4732,"v":-0.384,"e":0.25},{"t":4744,"v":-0.279,"e":0.2},{"t":4744,"v":-0.372,"e":0.15},{"t":4764,"v":-0.27,"e":0.2},{"t":4772,"v":-0.352,"e":0.2},{"t":4774,"v":-0.373,"e":0.15},{"t":4786,"v":-0.32,"e":0.2},{"t":4788,"v":-0.213,"e":0.2},{"t":4818,"v":-0.449,"e":0.2},{"t":4822,"v":-0.39,"e":0.2},{"t":4826,"v":-0.344,"e":0.15},{"t":4850,"v":-0.161,"e":0.15},{"t":4852,"v":-0.478,"e":0.2},{"t":4854,"v":-0.457,"e":0.15},{"t":4864,"v":-0.515,"e":0.2},{"t":4870,"v":-0.356,"e":0.2},{"t":4880,"v":-0.548,"e":0.15},{"t":4886,"v":-0.169,"e":0.2},{"t":4886,"v":-0.231,"e":0.2},{"t":4888,"v":-0.237,"e":0.15},{"t":4892,"v":-0.365,"e":0.2},{"t":4898,"v":-0.337,"e":0.15},{"t":4900,"v":-0.506,"e":0.2},{"t":4906,"v":-0.265,"e":0.2},{"t":4922,"v":-0.262,"e":0.15},{"t":4930,"v":-0.1,"e":0.32},{"t":4932,"v":-0.465,"e":0.2},{"t":4960,"v":-0.022,"e":0.22},{"t":4962,"v":-0.143,"e":0.25},{"t":4972,"v":-0.518,"e":0.2},{"t":4978,"v":-0.281,"e":0.2},{"t":5002,"v":-0.287,"e":0.15},{"t":5012,"v":-0.488,"e":0.2},{"t":5020,"v":-0.493,"e":0.15},{"t":5022,"v":-0.331,"e":0.2},{"t":5036,"v":-0.358,"e":0.15},{"t":5040,"v":-0.38,"e":0.2},{"t":5054,"v":-0.241,"e":0.2},{"t":5066,"v":-0.559,"e":0.15},{"t":5066,"v":-0.401,"e":0.2},{"t":5072,"v":-0.44,"e":0.15},{"t":5072,"v":-0.346,"e":0.2},{"t":5092,"v":-0.475,"e":0.2},{"t":5100,"v":-0.29,"e":0.2},{"t":5100,"v":-0.365,"e":0.15},{"t":5120,"v":-0.463,"e":0.2},{"t":5120,"v":-0.538,"e":0.15},{"t":5130,"v":-0.407,"e":0.2},{"t":5136,"v":-0.195,"e":0.2},{"t":5162,"v":-0.419,"e":0.2},{"t":5180,"v":-0.461,"e":0.15},{"t":5186,"v":-0.29,"e":0.2},{"t":5200,"v":-0.32,"e":0.2},{"t":5200,"v":-0.393,"e":0.15},{"t":5210,"v":-0.498,"e":0.2},{"t":5212,"v":-0.522,"e":0.2},{"t":5224,"v":-0.127,"e":0.15},{"t":5232,"v":-0.019,"e":0.28},{"t":5232,"v":-0.346,"e":0.2},{"t":5254,"v":-0.337,"e":0.2},{"t":5268,"v":-0.306,"e":0.15},{"t":5284,"v":-0.237,"e":0.2},{"t":5294,"v":-0.287,"e":0.2},{"t":5296,"v":-0.515,"e":0.15},{"t":5310,"v":-0.297,"e":0.2},{"t":5314,"v":-0.128,"e":0.2},{"t":5316,"v":-0.518,"e":0.2},{"t":5324,"v":-0.128,"e":0.15},{"t":5328,"v":-0.342,"e":0.2},{"t":5332,"v":-0.272,"e":0.2},{"t":5336,"v":-0.351,"e":0.15},{"t":5340,"v":-0.536,"e":0.2},{"t":5344,"v":-0.187,"e":0.2},{"t":5344,"v":-0.405,"e":0.15},{"t":5344,"v":-0.099,"e":0.2},{"t":5354,"v":-0.195,"e":0.2},{"t":5360,"v":-0.316,"e":0.15},{"t":5366,"v":-0.358,"e":0.2},{"t":5372,"v":-0.346,"e":0.2},{"t":5390,"v":-0.208,"e":0.2},{"t":5396,"v":-0.232,"e":0.15},{"t":5410,"v":-0.243,"e":0.2},{"t":5410,"v":-0.005,"e":0.22},{"t":5414,"v":-0.429,"e":0.2},{"t":5424,"v":-0.434,"e":0.15},{"t":5434,"v":-0.375,"e":0.2},{"t":5440,"v":-0.421,"e":0.2},{"t":5444,"v":-0.206,"e":0.15},{"t":5444,"v":-0.101,"e":0.2},{"t":5448,"v":-0.222,"e":0.2},{"t":5452,"v":-0.348,"e":0.15},{"t":5458,"v":-0.137,"e":0.2},{"t":5464,"v":-0.153,"e":0.2},{"t":5490,"v":-0.237,"e":0.2},{"t":5494,"v":-0.337,"e":0.15},{"t":5502,"v":-0.408,"e":0.2},{"t":5512,"v":-0.321,"e":0.2},{"t":5524,"v":-0.256,"e":0.15},{"t":5526,"v":-0.455,"e":0.2},{"t":5530,"v":-0.126,"e":0.2},{"t":5536,"v":-0.243,"e":0.15},{"t":5540,"v":-0.487,"e":0.2},{"t":5542,"v":-0.03,"e":0.2},{"t":5548,"v":-0.215,"e":0.2},{"t":5550,"v":-0.386,"e":0.15},{"t":5552,"v":-0.27,"e":0.2},{"t":5560,"v":-0.176,"e":0.2},{"t":5568,"v":-0.431,"e":0.15},{"t":5572,"v":-0.569,"e":0.2},{"t":5576,"v":-0.318,"e":0.2},{"t":5584,"v":-0.058,"e":0.15},{"t":5586,"v":-0.532,"e":0.2},{"t":5598,"v":-0.15,"e":0.2},{"t":5600,"v":-0.174,"e":0.15},{"t":5606,"v":-0.122,"e":0.2},{"t":5616,"v":-0.328,"e":0.2},{"t":5626,"v":-0.508,"e":0.15},{"t":5628,"v":-0.021,"e":0.2},{"t":5636,"v":-0.346,"e":0.2},{"t":5640,"v":-0.046,"e":0.15},{"t":5644,"v":-0.19,"e":0.2},{"t":5646,"v":-0.154,"e":0.2},{"t":5652,"v":-0.378,"e":0.15},{"t":5656,"v":-0.293,"e":0.2},{"t":5664,"v":-0.122,"e":0.2},{"t":5664,"v":-0.284,"e":0.15},{"t":5686,"v":-0.234,"e":0.2},{"t":5698,"v":-0.19,"e":0.2},{"t":5700,"v":-0.101,"e":0.2},{"t":5710,"v":-0.231,"e":0.15},{"t":5724,"v":-0.206,"e":0.2},{"t":5736,"v":-0.089,"e":0.2},{"t":5748,"v":-0.154,"e":0.15},{"t":5752,"v":-0.36,"e":0.2},{"t":5760,"v":-0.346,"e":0.2},{"t":5762,"v":-0.485,"e":0.15},{"t":5782,"v":-0.035,"e":0.2},{"t":5788,"v":-0.342,"e":0.2},{"t":5794,"v":-0.112,"e":0.2},{"t":5796,"v":-0.17,"e":0.15},{"t":5800,"v":-0.118,"e":0.2},{"t":5806,"v":-0.429,"e":0.2},{"t":5810,"v":-0.17,"e":0.15},{"t":5816,"v":-0.473,"e":0.2},{"t":5816,"v":-0.307,"e":0.2},{"t":5826,"v":-0.217,"e":0.15},{"t":5830,"v":-0.005,"e":0.25},{"t":5830,"v":-0.279,"e":0.2},{"t":5832,"v":-0.21,"e":0.2},{"t":5846,"v":-0.137,"e":0.2},{"t":5896,"v":-0.175,"e":0.2},{"t":5898,"v":-0.318,"e":0.15},{"t":5900,"v":-0.237,"e":0.2},{"t":5906,"v":-0.358,"e":0.2},{"t":5906,"v":-0.503,"e":0.15},{"t":5920,"v":-0.49,"e":0.2},{"t":5924,"v":-0.092,"e":0.2},{"t":5934,"v":-0.241,"e":0.15},{"t":5936,"v":-0.073,"e":0.2},{"t":5940,"v":-0.213,"e":0.2},{"t":5940,"v":-0.55,"e":0.15},{"t":5946,"v":-0.178,"e":0.2},{"t":5950,"v":-0.14,"e":0.25},{"t":5954,"v":-0.434,"e":0.2},{"t":5960,"v":-0.218,"e":0.15},{"t":5970,"v":-0.221,"e":0.2},{"t":5976,"v":-0.246,"e":0.2},{"t":5980,"v":-0.171,"e":0.15},{"t":5980,"v":-0.092,"e":0.2},{"t":5982,"v":-0.197,"e":0.2},{"t":6006,"v":-0.424,"e":0.15},{"t":6016,"v":-0.14,"e":0.2},{"t":6020,"v":-0.213,"e":0.2},{"t":6022,"v":-0.381,"e":0.15},{"t":6032,"v":-0.07,"e":0.3},{"t":6036,"v":-0.045,"e":0.2},{"t":6044,"v":-0.125,"e":0.2},{"t":6046,"v":-0.446,"e":0.15},{"t":6050,"v":-0.257,"e":0.2},{"t":6070,"v":-0.007,"e":0.22},{"t":6076,"v":-0.045,"e":0.25},{"t":6086,"v":-0.176,"e":0.2},{"t":6086,"v":-0.253,"e":0.15},{"t":6100,"v":-0.288,"e":0.2},{"t":6156,"v":-0.209,"e":0.2},{"t":6156,"v":-0.237,"e":0.15},{"t":6186,"v":-0.167,"e":0.2},{"t":6186,"v":-0.414,"e":0.2},{"t":6200,"v":-0.213,"e":0.15},{"t":6200,"v":-0.485,"e":0.2},{"t":6224,"v":-0.424,"e":0.2},{"t":6228,"v":-0.456,"e":0.15},{"t":6230,"v":-0.228,"e":0.2},{"t":6296,"v":-0.019,"e":0.15},{"t":6300,"v":-0.192,"e":0.2},{"t":6316,"v":-0.064,"e":0.2},{"t":6316,"v":-0.288,"e":0.15},{"t":6320,"v":-0.407,"e":0.2},{"t":6320,"v":-0.078,"e":0.2},{"t":6324,"v":-0.098,"e":0.15},{"t":6330,"v":-0.106,"e":0.2},{"t":6340,"v":-0.534,"e":0.2},{"t":6344,"v":-0.373,"e":0.15},{"t":6350,"v":-0.513,"e":0.2},{"t":6360,"v":-0.326,"e":0.2},{"t":6362,"v":-0.39,"e":0.15},{"t":6372,"v":-0.246,"e":0.2},{"t":6384,"v":-0.157,"e":0.2},{"t":6390,"v":-0.138,"e":0.15},{"t":6420,"v":-0.003,"e":0.15},{"t":6448,"v":-0.045,"e":0.2},{"t":6460,"v":-0.131,"e":0.2},{"t":6464,"v":-0.152,"e":0.15},{"t":6470,"v":-0.156,"e":0.2},{"t":6476,"v":-0.56,"e":0.2},{"t":6476,"v":-0.284,"e":0.15},{"t":6484,"v":-0.243,"e":0.2},{"t":6500,"v":-0.112,"e":0.2},{"t":6520,"v":-0.094,"e":0.15},{"t":6524,"v":-0.103,"e":0.2},{"t":6524,"v":-0.131,"e":0.2},{"t":6540,"v":-0.529,"e":0.15},{"t":6590,"v":-0.082,"e":0.2},{"t":6616,"v":-0.112,"e":0.2},{"t":6620,"v":-0.473,"e":0.15},{"t":6640,"v":-0.34,"e":0.2},{"t":6656,"v":-0.156,"e":0.2},{"t":6660,"v":-0.208,"e":0.15},{"t":6660,"v":-0.483,"e":0.2},{"t":6668,"v":-0.176,"e":0.2},{"t":6668,"v":-0.445,"e":0.15},{"t":6714,"v":-0.265,"e":0.2},{"t":6730,"v":-0.265,"e":0.15},{"t":6736,"v":-0.403,"e":0.2},{"t":6744,"v":-0.161,"e":0.2},{"t":6774,"v":-0.389,"e":0.15},{"t":6820,"v":-0.228,"e":0.2},{"t":6856,"v":-0.337,"e":0.2},{"t":6868,"v":-0.424,"e":0.15},{"t":6900,"v":-0.199,"e":0.2},{"t":6906,"v":-0.359,"e":0.2},{"t":6952,"v":-0.408,"e":0.15},{"t":6960,"v":-0.134,"e":0.2},{"t":6996,"v":-0.412,"e":0.2}
    ]
  },
  "concat": [
    {
      "width": 603, "height": 562, "data": {"name": "cfe"},
      "layer": [
        {"mark": {"type": "errorbar", "color": "#808080", "opacity": 0.55, "thickness": 2.2},
         "encoding": {"x": {"field": "t", "type": "quantitative", "scale": {"domain": [4000, 7000], "nice": false, "clamp": true}, "title": "Teff", "axis": {"values": [4000, 4500, 5000, 5500, 6000, 6500, 7000], "format": "d"}},
                      "y": {"field": "v", "type": "quantitative", "scale": {"domain": [-0.6, 0.8], "nice": false, "zero": false, "clamp": true}, "title": "[C/Fe]", "axis": {"values": [-0.6, -0.4, -0.2, 0, 0.2, 0.4, 0.6, 0.8], "format": ".1f"}},
                      "yError": {"field": "e"}}},
        {"mark": {"type": "point", "filled": true, "color": "#0000ff", "opacity": 0.8, "size": 105},
         "encoding": {"x": {"field": "t", "type": "quantitative", "title": "Teff", "axis": {"values": [4000, 4500, 5000, 5500, 6000, 6500, 7000], "format": "d"}},
                      "y": {"field": "v", "type": "quantitative", "title": "[C/Fe]", "axis": {"values": [-0.6, -0.4, -0.2, 0, 0.2, 0.4, 0.6, 0.8], "format": ".1f"}}}},
        {"data": {"values": [{}]}, "mark": {"type": "rule", "color": "black", "strokeWidth": 4.5, "strokeDash": [4.5, 4.5]}, "encoding": {"y": {"datum": 0}}},
        {"data": {"values": [{}]}, "mark": {"type": "rule", "color": "#008000", "strokeWidth": 3.5, "strokeDash": [14, 6]}, "encoding": {"y": {"datum": -0.115}}}
      ]
    },
    {
      "width": 603, "height": 562, "data": {"name": "mgfe"},
      "layer": [
        {"mark": {"type": "errorbar", "color": "#808080", "opacity": 0.55, "thickness": 2.2},
         "encoding": {"x": {"field": "t", "type": "quantitative", "scale": {"domain": [4000, 7000], "nice": false, "clamp": true}, "title": "Teff", "axis": {"values": [4000, 4500, 5000, 5500, 6000, 6500, 7000], "format": "d"}},
                      "y": {"field": "v", "type": "quantitative", "scale": {"domain": [-0.6, 0.8], "nice": false, "zero": false, "clamp": true}, "title": "[Mg/Fe]", "axis": {"values": [-0.6, -0.4, -0.2, 0, 0.2, 0.4, 0.6, 0.8], "format": ".1f"}},
                      "yError": {"field": "e"}}},
        {"mark": {"type": "point", "filled": true, "color": "#0000ff", "opacity": 0.8, "size": 105},
         "encoding": {"x": {"field": "t", "type": "quantitative", "title": "Teff", "axis": {"values": [4000, 4500, 5000, 5500, 6000, 6500, 7000], "format": "d"}},
                      "y": {"field": "v", "type": "quantitative", "title": "[Mg/Fe]", "axis": {"values": [-0.6, -0.4, -0.2, 0, 0.2, 0.4, 0.6, 0.8], "format": ".1f"}}}},
        {"data": {"values": [{}]}, "mark": {"type": "rule", "color": "black", "strokeWidth": 4.5, "strokeDash": [4.5, 4.5]}, "encoding": {"y": {"datum": 0}}},
        {"data": {"values": [{}]}, "mark": {"type": "rule", "color": "#008000", "strokeWidth": 3.5, "strokeDash": [14, 6]}, "encoding": {"y": {"datum": 0.032}}}
      ]
    },
    {
      "width": 603, "height": 562, "data": {"name": "sife"},
      "layer": [
        {"mark": {"type": "errorbar", "color": "#808080", "opacity": 0.55, "thickness": 2.2},
         "encoding": {"x": {"field": "t", "type": "quantitative", "scale": {"domain": [4000, 7000], "nice": false, "clamp": true}, "title": "Teff", "axis": {"values": [4000, 4500, 5000, 5500, 6000, 6500, 7000], "format": "d"}},
                      "y": {"field": "v", "type": "quantitative", "scale": {"domain": [-0.6, 0.8], "nice": false, "zero": false, "clamp": true}, "title": "[Si/Fe]", "axis": {"values": [-0.6, -0.4, -0.2, 0, 0.2, 0.4, 0.6, 0.8], "format": ".1f"}},
                      "yError": {"field": "e"}}},
        {"mark": {"type": "point", "filled": true, "color": "#0000ff", "opacity": 0.8, "size": 105},
         "encoding": {"x": {"field": "t", "type": "quantitative", "title": "Teff", "axis": {"values": [4000, 4500, 5000, 5500, 6000, 6500, 7000], "format": "d"}},
                      "y": {"field": "v", "type": "quantitative", "title": "[Si/Fe]", "axis": {"values": [-0.6, -0.4, -0.2, 0, 0.2, 0.4, 0.6, 0.8], "format": ".1f"}}}},
        {"data": {"values": [{}]}, "mark": {"type": "rule", "color": "black", "strokeWidth": 4.5, "strokeDash": [4.5, 4.5]}, "encoding": {"y": {"datum": 0}}},
        {"data": {"values": [{}]}, "mark": {"type": "rule", "color": "#008000", "strokeWidth": 3.5, "strokeDash": [14, 6]}, "encoding": {"y": {"datum": 0.129}}}
      ]
    },
    {
      "width": 603, "height": 562, "data": {"name": "crfe"},
      "layer": [
        {"mark": {"type": "errorbar", "color": "#808080", "opacity": 0.55, "thickness": 2.2},
         "encoding": {"x": {"field": "t", "type": "quantitative", "scale": {"domain": [4000, 7000], "nice": false, "clamp": true}, "title": "Teff", "axis": {"values": [4000, 4500, 5000, 5500, 6000, 6500, 7000], "format": "d"}},
                      "y": {"field": "v", "type": "quantitative", "scale": {"domain": [-0.6, 0.8], "nice": false, "zero": false, "clamp": true}, "title": "[Cr/Fe]", "axis": {"values": [-0.6, -0.4, -0.2, 0, 0.2, 0.4, 0.6, 0.8], "format": ".1f"}},
                      "yError": {"field": "e"}}},
        {"mark": {"type": "point", "filled": true, "color": "#0000ff", "opacity": 0.8, "size": 105},
         "encoding": {"x": {"field": "t", "type": "quantitative", "title": "Teff", "axis": {"values": [4000, 4500, 5000, 5500, 6000, 6500, 7000], "format": "d"}},
                      "y": {"field": "v", "type": "quantitative", "title": "[Cr/Fe]", "axis": {"values": [-0.6, -0.4, -0.2, 0, 0.2, 0.4, 0.6, 0.8], "format": ".1f"}}}},
        {"data": {"values": [{}]}, "mark": {"type": "rule", "color": "black", "strokeWidth": 4.5, "strokeDash": [4.5, 4.5]}, "encoding": {"y": {"datum": 0}}},
        {"data": {"values": [{}]}, "mark": {"type": "rule", "color": "#008000", "strokeWidth": 3.5, "strokeDash": [14, 6]}, "encoding": {"y": {"datum": 0.2}}}
      ]
    },
    {
      "width": 603, "height": 562, "data": {"name": "tife"},
      "layer": [
        {"mark": {"type": "errorbar", "color": "#808080", "opacity": 0.55, "thickness": 2.2},
         "encoding": {"x": {"field": "t", "type": "quantitative", "scale": {"domain": [4000, 7000], "nice": false, "clamp": true}, "title": "Teff", "axis": {"values": [4000, 4500, 5000, 5500, 6000, 6500, 7000], "format": "d"}},
                      "y": {"field": "v", "type": "quantitative", "scale": {"domain": [-0.6, 0.8], "nice": false, "zero": false, "clamp": true}, "title": "[Ti/Fe]", "axis": {"values": [-0.6, -0.4, -0.2, 0, 0.2, 0.4, 0.6, 0.8], "format": ".1f"}},
                      "yError": {"field": "e"}}},
        {"mark": {"type": "point", "filled": true, "color": "#0000ff", "opacity": 0.8, "size": 105},
         "encoding": {"x": {"field": "t", "type": "quantitative", "title": "Teff", "axis": {"values": [4000, 4500, 5000, 5500, 6000, 6500, 7000], "format": "d"}},
                      "y": {"field": "v", "type": "quantitative", "title": "[Ti/Fe]", "axis": {"values": [-0.6, -0.4, -0.2, 0, 0.2, 0.4, 0.6, 0.8], "format": ".1f"}}}},
        {"data": {"values": [{}]}, "mark": {"type": "rule", "color": "black", "strokeWidth": 4.5, "strokeDash": [4.5, 4.5]}, "encoding": {"y": {"datum": 0}}},
        {"data": {"values": [{}]}, "mark": {"type": "rule", "color": "#008000", "strokeWidth": 3.5, "strokeDash": [14, 6]}, "encoding": {"y": {"datum": 0.129}}}
      ]
    },
    {
      "width": 603, "height": 562, "data": {"name": "nife"},
      "layer": [
        {"mark": {"type": "errorbar", "color": "#808080", "opacity": 0.55, "thickness": 2.2},
         "encoding": {"x": {"field": "t", "type": "quantitative", "scale": {"domain": [4000, 7000], "nice": false, "clamp": true}, "title": "Teff", "axis": {"values": [4000, 4500, 5000, 5500, 6000, 6500, 7000], "format": "d"}},
                      "y": {"field": "v", "type": "quantitative", "scale": {"domain": [-0.6, 0.8], "nice": false, "zero": false, "clamp": true}, "title": "[Ni/Fe]", "axis": {"values": [-0.6, -0.4, -0.2, 0, 0.2, 0.4, 0.6, 0.8], "format": ".1f"}},
                      "yError": {"field": "e"}}},
        {"mark": {"type": "point", "filled": true, "color": "#0000ff", "opacity": 0.8, "size": 105},
         "encoding": {"x": {"field": "t", "type": "quantitative", "title": "Teff", "axis": {"values": [4000, 4500, 5000, 5500, 6000, 6500, 7000], "format": "d"}},
                      "y": {"field": "v", "type": "quantitative", "title": "[Ni/Fe]", "axis": {"values": [-0.6, -0.4, -0.2, 0, 0.2, 0.4, 0.6, 0.8], "format": ".1f"}}}},
        {"data": {"values": [{}]}, "mark": {"type": "rule", "color": "black", "strokeWidth": 4.5, "strokeDash": [4.5, 4.5]}, "encoding": {"y": {"datum": 0}}},
        {"data": {"values": [{}]}, "mark": {"type": "rule", "color": "#008000", "strokeWidth": 3.5, "strokeDash": [14, 6]}, "encoding": {"y": {"datum": -0.103}}}
      ]
    },
    {
      "width": 603, "height": 562, "view": {"stroke": null},
      "data": {"values": [{}]},
      "mark": {"type": "point", "opacity": 0}
    },
    {
      "width": 603, "height": 562, "data": {"name": "feh"},
      "layer": [
        {"mark": {"type": "errorbar", "color": "#808080", "opacity": 0.55, "thickness": 2.2},
         "encoding": {"x": {"field": "t", "type": "quantitative", "scale": {"domain": [4000, 7000], "nice": false, "clamp": true}, "title": "Teff", "axis": {"values": [4000, 4500, 5000, 5500, 6000, 6500, 7000], "format": "d"}},
                      "y": {"field": "v", "type": "quantitative", "scale": {"domain": [-0.6, 0.8], "nice": false, "zero": false, "clamp": true}, "title": "[Fe/H]", "axis": {"values": [-0.6, -0.4, -0.2, 0, 0.2, 0.4, 0.6, 0.8], "format": ".1f"}},
                      "yError": {"field": "e"}}},
        {"mark": {"type": "point", "filled": true, "color": "#0000ff", "opacity": 0.8, "size": 105},
         "encoding": {"x": {"field": "t", "type": "quantitative", "title": "Teff", "axis": {"values": [4000, 4500, 5000, 5500, 6000, 6500, 7000], "format": "d"}},
                      "y": {"field": "v", "type": "quantitative", "title": "[Fe/H]", "axis": {"values": [-0.6, -0.4, -0.2, 0, 0.2, 0.4, 0.6, 0.8], "format": ".1f"}}}},
        {"data": {"values": [{}]}, "mark": {"type": "rule", "color": "black", "strokeWidth": 4.5, "strokeDash": [4.5, 4.5]}, "encoding": {"y": {"datum": 0}}},
        {"data": {"values": [{}]}, "mark": {"type": "rule", "color": "#008000", "strokeWidth": 3.5, "strokeDash": [14, 6]}, "encoding": {"y": {"datum": -0.105}}}
      ]
    }
  ],
  "columns": 3,
  "bounds": "flush",
  "spacing": {"row": 99, "column": 225},
  "config": {
    "font": "DejaVu Sans",
    "view": {"stroke": "black", "strokeWidth": 1.5},
    "axis": {
      "grid": false, "domainColor": "black", "domainWidth": 1.5,
      "tickColor": "black", "tickWidth": 1.5, "tickSize": 6,
      "labelFontSize": 26, "labelColor": "black", "labelPadding": 3, "labelFlush": false, "labelOverlap": false,
      "titleFontSize": 31, "titleFontWeight": "bold", "titleColor": "black"
    },
    "axisX": {"titlePadding": 2},
    "axisY": {"titlePadding": 12}
  }
}
